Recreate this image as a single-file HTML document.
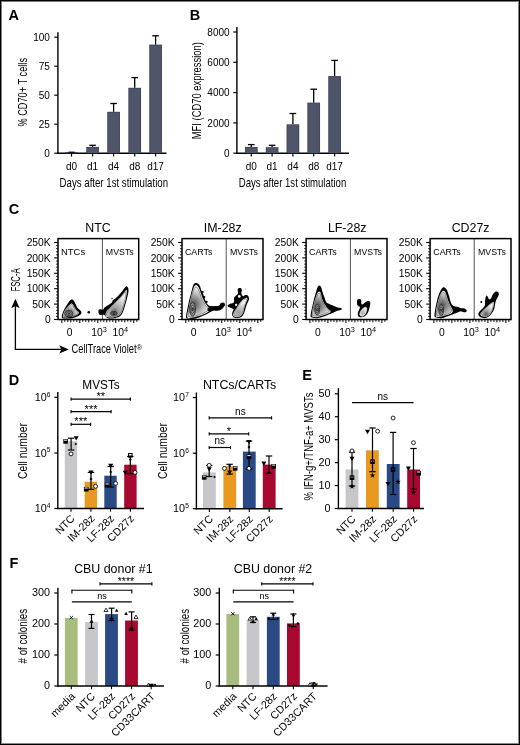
<!DOCTYPE html>
<html><head><meta charset="utf-8"><style>
html,body{margin:0;padding:0;background:#fff;}
svg{display:block;will-change:transform;}
text{font-family:"Liberation Sans", sans-serif;}
</style></head><body>
<svg width="520" height="745" viewBox="0 0 520 745">
<rect width="520" height="745" fill="#fff"/>
<rect x="1" y="1" width="518" height="1" fill="#7c7c7c"/>
<rect x="1" y="1" width="1" height="743" fill="#808080"/>
<rect x="518" y="1" width="1" height="743" fill="#8a8a8a"/>
<rect x="1" y="743" width="518" height="1" fill="#888"/>
<rect x="0" y="0" width="520" height="1" fill="#000"/>
<rect x="0" y="0" width="1" height="745" fill="#000"/>
<rect x="519" y="0" width="1" height="745" fill="#000"/>
<rect x="0" y="744" width="520" height="1" fill="#000"/>
<text x="8.6" y="20.2" font-size="14.5" font-weight="bold">A</text>
<text x="189.8" y="20.2" font-size="14.5" font-weight="bold">B</text>
<text x="8.8" y="213.5" font-size="14.5" font-weight="bold">C</text>
<text x="8.8" y="384.6" font-size="14.5" font-weight="bold">D</text>
<text x="302.2" y="379.6" font-size="14.5" font-weight="bold">E</text>
<text x="9.6" y="568.2" font-size="14.5" font-weight="bold">F</text>
<line x1="57.9" y1="32.19999999999999" x2="57.9" y2="153.79999999999998" stroke="#000" stroke-width="1.4"/>
<line x1="57.199999999999996" y1="153.2" x2="166.5" y2="153.2" stroke="#000" stroke-width="1.4"/>
<line x1="54.3" y1="153.2" x2="57.9" y2="153.2" stroke="#000" stroke-width="1.2"/>
<text x="49.9" y="156.79999999999998" font-size="10" text-anchor="end">0</text>
<line x1="54.3" y1="124.19999999999999" x2="57.9" y2="124.19999999999999" stroke="#000" stroke-width="1.2"/>
<text x="49.9" y="127.79999999999998" font-size="10" text-anchor="end">25</text>
<line x1="54.3" y1="95.19999999999999" x2="57.9" y2="95.19999999999999" stroke="#000" stroke-width="1.2"/>
<text x="49.9" y="98.79999999999998" font-size="10" text-anchor="end">50</text>
<line x1="54.3" y1="66.19999999999999" x2="57.9" y2="66.19999999999999" stroke="#000" stroke-width="1.2"/>
<text x="49.9" y="69.79999999999998" font-size="10" text-anchor="end">75</text>
<line x1="54.3" y1="37.19999999999999" x2="57.9" y2="37.19999999999999" stroke="#000" stroke-width="1.2"/>
<text x="49.9" y="40.79999999999999" font-size="10" text-anchor="end">100</text>
<rect x="65.15" y="152.2" width="12.7" height="1.0" fill="#3e4356"/>
<rect x="65.95" y="153.0" width="11.1" height="0.19999999999999996" fill="#4f5568"/>
<line x1="71.5" y1="153.2" x2="71.5" y2="156.6" stroke="#000" stroke-width="1.2"/>
<rect x="86.25" y="146.9" width="12.7" height="6.299999999999983" fill="#3e4356"/>
<rect x="87.05" y="147.70000000000002" width="11.1" height="5.499999999999983" fill="#4f5568"/>
<line x1="92.6" y1="145.3" x2="92.6" y2="146.9" stroke="#000" stroke-width="1.3"/>
<line x1="89.3" y1="145.3" x2="95.89999999999999" y2="145.3" stroke="#000" stroke-width="1.3"/>
<line x1="92.6" y1="153.2" x2="92.6" y2="156.6" stroke="#000" stroke-width="1.2"/>
<rect x="107.25" y="111.8" width="12.7" height="41.39999999999999" fill="#3e4356"/>
<rect x="108.05" y="112.6" width="11.1" height="40.599999999999994" fill="#4f5568"/>
<line x1="113.6" y1="103.5" x2="113.6" y2="111.8" stroke="#000" stroke-width="1.3"/>
<line x1="110.3" y1="103.5" x2="116.89999999999999" y2="103.5" stroke="#000" stroke-width="1.3"/>
<line x1="113.6" y1="153.2" x2="113.6" y2="156.6" stroke="#000" stroke-width="1.2"/>
<rect x="128.35" y="87.8" width="12.7" height="65.39999999999999" fill="#3e4356"/>
<rect x="129.14999999999998" y="88.6" width="11.1" height="64.6" fill="#4f5568"/>
<line x1="134.7" y1="77.6" x2="134.7" y2="87.8" stroke="#000" stroke-width="1.3"/>
<line x1="131.39999999999998" y1="77.6" x2="138.0" y2="77.6" stroke="#000" stroke-width="1.3"/>
<line x1="134.7" y1="153.2" x2="134.7" y2="156.6" stroke="#000" stroke-width="1.2"/>
<rect x="149.25" y="44.6" width="12.7" height="108.6" fill="#3e4356"/>
<rect x="150.04999999999998" y="45.4" width="11.1" height="107.8" fill="#4f5568"/>
<line x1="155.6" y1="35.8" x2="155.6" y2="44.6" stroke="#000" stroke-width="1.3"/>
<line x1="152.29999999999998" y1="35.8" x2="158.9" y2="35.8" stroke="#000" stroke-width="1.3"/>
<line x1="155.6" y1="153.2" x2="155.6" y2="156.6" stroke="#000" stroke-width="1.2"/>
<text x="71.5" y="169.5" font-size="10" text-anchor="middle">d0</text>
<text x="92.6" y="169.5" font-size="10" text-anchor="middle">d1</text>
<text x="113.6" y="169.5" font-size="10" text-anchor="middle">d4</text>
<text x="134.7" y="169.5" font-size="10" text-anchor="middle">d8</text>
<text x="155.6" y="169.5" font-size="10" text-anchor="middle">d17</text>
<text x="26.6" y="92.3" font-size="13.4" text-anchor="middle" textLength="68.6" lengthAdjust="spacingAndGlyphs" transform="rotate(-90 26.6 92.3)">% CD70+ T cells</text>
<line x1="68.5" y1="152.2" x2="74.5" y2="152.2" stroke="#000" stroke-width="1.2"/>
<text x="113.8" y="187.3" font-size="12.8" text-anchor="middle" textLength="108.5" lengthAdjust="spacingAndGlyphs">Days after 1st stimulation</text>
<line x1="236.9" y1="26.999999999999986" x2="236.9" y2="153.79999999999998" stroke="#000" stroke-width="1.4"/>
<line x1="236.20000000000002" y1="153.2" x2="349" y2="153.2" stroke="#000" stroke-width="1.4"/>
<line x1="233.3" y1="153.2" x2="236.9" y2="153.2" stroke="#000" stroke-width="1.2"/>
<text x="229.6" y="156.79999999999998" font-size="10" text-anchor="end">0</text>
<line x1="233.3" y1="122.89999999999999" x2="236.9" y2="122.89999999999999" stroke="#000" stroke-width="1.2"/>
<text x="229.6" y="126.49999999999999" font-size="10" text-anchor="end">2000</text>
<line x1="233.3" y1="92.6" x2="236.9" y2="92.6" stroke="#000" stroke-width="1.2"/>
<text x="229.6" y="96.19999999999999" font-size="10" text-anchor="end">4000</text>
<line x1="233.3" y1="62.29999999999998" x2="236.9" y2="62.29999999999998" stroke="#000" stroke-width="1.2"/>
<text x="229.6" y="65.89999999999998" font-size="10" text-anchor="end">6000</text>
<line x1="233.3" y1="31.999999999999986" x2="236.9" y2="31.999999999999986" stroke="#000" stroke-width="1.2"/>
<text x="229.6" y="35.59999999999999" font-size="10" text-anchor="end">8000</text>
<rect x="244.95000000000002" y="146.9" width="12.7" height="6.299999999999983" fill="#3e4356"/>
<rect x="245.75" y="147.70000000000002" width="11.1" height="5.499999999999983" fill="#4f5568"/>
<line x1="251.3" y1="144.6" x2="251.3" y2="146.9" stroke="#000" stroke-width="1.3"/>
<line x1="248.0" y1="144.6" x2="254.60000000000002" y2="144.6" stroke="#000" stroke-width="1.3"/>
<line x1="251.3" y1="153.2" x2="251.3" y2="156.6" stroke="#000" stroke-width="1.2"/>
<rect x="265.75" y="147.2" width="12.7" height="6.0" fill="#3e4356"/>
<rect x="266.55" y="148.0" width="11.1" height="5.2" fill="#4f5568"/>
<line x1="272.1" y1="145.3" x2="272.1" y2="147.2" stroke="#000" stroke-width="1.3"/>
<line x1="268.8" y1="145.3" x2="275.40000000000003" y2="145.3" stroke="#000" stroke-width="1.3"/>
<line x1="272.1" y1="153.2" x2="272.1" y2="156.6" stroke="#000" stroke-width="1.2"/>
<rect x="286.54999999999995" y="124.3" width="12.7" height="28.89999999999999" fill="#3e4356"/>
<rect x="287.34999999999997" y="125.1" width="11.1" height="28.09999999999999" fill="#4f5568"/>
<line x1="292.9" y1="113.5" x2="292.9" y2="124.3" stroke="#000" stroke-width="1.3"/>
<line x1="289.59999999999997" y1="113.5" x2="296.2" y2="113.5" stroke="#000" stroke-width="1.3"/>
<line x1="292.9" y1="153.2" x2="292.9" y2="156.6" stroke="#000" stroke-width="1.2"/>
<rect x="307.34999999999997" y="102.6" width="12.7" height="50.599999999999994" fill="#3e4356"/>
<rect x="308.15" y="103.39999999999999" width="11.1" height="49.8" fill="#4f5568"/>
<line x1="313.7" y1="89.2" x2="313.7" y2="102.6" stroke="#000" stroke-width="1.3"/>
<line x1="310.4" y1="89.2" x2="317.0" y2="89.2" stroke="#000" stroke-width="1.3"/>
<line x1="313.7" y1="153.2" x2="313.7" y2="156.6" stroke="#000" stroke-width="1.2"/>
<rect x="328.25" y="76.1" width="12.7" height="77.1" fill="#3e4356"/>
<rect x="329.05" y="76.89999999999999" width="11.1" height="76.3" fill="#4f5568"/>
<line x1="334.6" y1="60.4" x2="334.6" y2="76.1" stroke="#000" stroke-width="1.3"/>
<line x1="331.3" y1="60.4" x2="337.90000000000003" y2="60.4" stroke="#000" stroke-width="1.3"/>
<line x1="334.6" y1="153.2" x2="334.6" y2="156.6" stroke="#000" stroke-width="1.2"/>
<text x="251.3" y="169.5" font-size="10" text-anchor="middle">d0</text>
<text x="272.1" y="169.5" font-size="10" text-anchor="middle">d1</text>
<text x="292.9" y="169.5" font-size="10" text-anchor="middle">d4</text>
<text x="313.7" y="169.5" font-size="10" text-anchor="middle">d8</text>
<text x="334.6" y="169.5" font-size="10" text-anchor="middle">d17</text>
<text x="201.2" y="90.7" font-size="13.4" text-anchor="middle" textLength="97" lengthAdjust="spacingAndGlyphs" transform="rotate(-90 201.2 90.7)">MFI (CD70 expression)</text>
<text x="292.5" y="187.3" font-size="12.8" text-anchor="middle" textLength="107.5" lengthAdjust="spacingAndGlyphs">Days after 1st stimulation</text>
<text x="98.0" y="231.8" font-size="12.4" text-anchor="middle">NTC</text>
<line x1="54.1" y1="319.5" x2="58.0" y2="319.5" stroke="#000" stroke-width="1.1"/>
<text x="50.7" y="323.1" font-size="10.3" text-anchor="end">0</text>
<line x1="56.1" y1="316.43" x2="58.0" y2="316.43" stroke="#000" stroke-width="0.9"/>
<line x1="56.1" y1="313.36" x2="58.0" y2="313.36" stroke="#000" stroke-width="0.9"/>
<line x1="56.1" y1="310.29" x2="58.0" y2="310.29" stroke="#000" stroke-width="0.9"/>
<line x1="56.1" y1="307.22" x2="58.0" y2="307.22" stroke="#000" stroke-width="0.9"/>
<line x1="54.1" y1="304.1" x2="58.0" y2="304.1" stroke="#000" stroke-width="1.1"/>
<text x="50.7" y="307.70000000000005" font-size="10.3" text-anchor="end">50K</text>
<line x1="56.1" y1="301.03000000000003" x2="58.0" y2="301.03000000000003" stroke="#000" stroke-width="0.9"/>
<line x1="56.1" y1="297.96000000000004" x2="58.0" y2="297.96000000000004" stroke="#000" stroke-width="0.9"/>
<line x1="56.1" y1="294.89000000000004" x2="58.0" y2="294.89000000000004" stroke="#000" stroke-width="0.9"/>
<line x1="56.1" y1="291.82000000000005" x2="58.0" y2="291.82000000000005" stroke="#000" stroke-width="0.9"/>
<line x1="54.1" y1="288.7" x2="58.0" y2="288.7" stroke="#000" stroke-width="1.1"/>
<text x="50.7" y="292.3" font-size="10.3" text-anchor="end">100K</text>
<line x1="56.1" y1="285.63" x2="58.0" y2="285.63" stroke="#000" stroke-width="0.9"/>
<line x1="56.1" y1="282.56" x2="58.0" y2="282.56" stroke="#000" stroke-width="0.9"/>
<line x1="56.1" y1="279.49" x2="58.0" y2="279.49" stroke="#000" stroke-width="0.9"/>
<line x1="56.1" y1="276.42" x2="58.0" y2="276.42" stroke="#000" stroke-width="0.9"/>
<line x1="54.1" y1="273.3" x2="58.0" y2="273.3" stroke="#000" stroke-width="1.1"/>
<text x="50.7" y="276.90000000000003" font-size="10.3" text-anchor="end">150K</text>
<line x1="56.1" y1="270.23" x2="58.0" y2="270.23" stroke="#000" stroke-width="0.9"/>
<line x1="56.1" y1="267.16" x2="58.0" y2="267.16" stroke="#000" stroke-width="0.9"/>
<line x1="56.1" y1="264.09000000000003" x2="58.0" y2="264.09000000000003" stroke="#000" stroke-width="0.9"/>
<line x1="56.1" y1="261.02000000000004" x2="58.0" y2="261.02000000000004" stroke="#000" stroke-width="0.9"/>
<line x1="54.1" y1="257.9" x2="58.0" y2="257.9" stroke="#000" stroke-width="1.1"/>
<text x="50.7" y="261.5" font-size="10.3" text-anchor="end">200K</text>
<line x1="56.1" y1="254.82999999999998" x2="58.0" y2="254.82999999999998" stroke="#000" stroke-width="0.9"/>
<line x1="56.1" y1="251.76" x2="58.0" y2="251.76" stroke="#000" stroke-width="0.9"/>
<line x1="56.1" y1="248.68999999999997" x2="58.0" y2="248.68999999999997" stroke="#000" stroke-width="0.9"/>
<line x1="56.1" y1="245.61999999999998" x2="58.0" y2="245.61999999999998" stroke="#000" stroke-width="0.9"/>
<line x1="54.1" y1="242.5" x2="58.0" y2="242.5" stroke="#000" stroke-width="1.1"/>
<text x="50.7" y="246.1" font-size="10.3" text-anchor="end">250K</text>
<line x1="61.8" y1="320.0" x2="61.8" y2="323.0" stroke="#000" stroke-width="1.0"/>
<line x1="64.8" y1="320.0" x2="64.8" y2="321.8" stroke="#000" stroke-width="1.0"/>
<line x1="67.8" y1="320.0" x2="67.8" y2="321.9" stroke="#000" stroke-width="1.0"/>
<line x1="70.8" y1="320.0" x2="70.8" y2="322.4" stroke="#000" stroke-width="1.0"/>
<line x1="73.8" y1="320.0" x2="73.8" y2="321.7" stroke="#000" stroke-width="1.0"/>
<line x1="76.8" y1="320.0" x2="76.8" y2="321.9" stroke="#000" stroke-width="1.0"/>
<line x1="79.8" y1="320.0" x2="79.8" y2="323.0" stroke="#000" stroke-width="1.0"/>
<line x1="82.8" y1="320.0" x2="82.8" y2="321.8" stroke="#000" stroke-width="1.0"/>
<line x1="85.8" y1="320.0" x2="85.8" y2="321.9" stroke="#000" stroke-width="1.0"/>
<line x1="88.8" y1="320.0" x2="88.8" y2="322.4" stroke="#000" stroke-width="1.0"/>
<line x1="91.8" y1="320.0" x2="91.8" y2="321.7" stroke="#000" stroke-width="1.0"/>
<line x1="94.8" y1="320.0" x2="94.8" y2="321.9" stroke="#000" stroke-width="1.0"/>
<line x1="97.8" y1="320.0" x2="97.8" y2="323.0" stroke="#000" stroke-width="1.0"/>
<line x1="100.8" y1="320.0" x2="100.8" y2="321.8" stroke="#000" stroke-width="1.0"/>
<line x1="103.8" y1="320.0" x2="103.8" y2="321.9" stroke="#000" stroke-width="1.0"/>
<line x1="106.8" y1="320.0" x2="106.8" y2="322.4" stroke="#000" stroke-width="1.0"/>
<line x1="109.8" y1="320.0" x2="109.8" y2="321.7" stroke="#000" stroke-width="1.0"/>
<line x1="112.8" y1="320.0" x2="112.8" y2="321.9" stroke="#000" stroke-width="1.0"/>
<line x1="115.8" y1="320.0" x2="115.8" y2="323.0" stroke="#000" stroke-width="1.0"/>
<line x1="118.8" y1="320.0" x2="118.8" y2="321.8" stroke="#000" stroke-width="1.0"/>
<line x1="121.8" y1="320.0" x2="121.8" y2="321.9" stroke="#000" stroke-width="1.0"/>
<line x1="124.8" y1="320.0" x2="124.8" y2="322.4" stroke="#000" stroke-width="1.0"/>
<line x1="127.8" y1="320.0" x2="127.8" y2="321.7" stroke="#000" stroke-width="1.0"/>
<line x1="130.8" y1="320.0" x2="130.8" y2="321.9" stroke="#000" stroke-width="1.0"/>
<line x1="133.8" y1="320.0" x2="133.8" y2="323.0" stroke="#000" stroke-width="1.0"/>
<line x1="136.8" y1="320.0" x2="136.8" y2="321.8" stroke="#000" stroke-width="1.0"/>
<text x="69.7" y="336.2" font-size="10.3" text-anchor="middle">0</text>
<text x="91.20" y="336.2" font-size="10.3">10<tspan font-size="7.4" dy="-4.1">3</tspan></text>
<text x="112.50" y="336.2" font-size="10.3">10<tspan font-size="7.4" dy="-4.1">4</tspan></text>
<line x1="102.4" y1="238.6" x2="102.4" y2="319.5" stroke="#555" stroke-width="1.0"/>
<text x="61.0" y="255.1" font-size="9.9" textLength="24.2" lengthAdjust="spacingAndGlyphs">NTCs</text>
<text x="105.8" y="255.1" font-size="9.9" textLength="27.9" lengthAdjust="spacingAndGlyphs">MVSTs</text>
<path d="M61.80,317.50 C61.43,316.50 62.18,314.25 62.80,312.50 C63.42,310.75 64.50,308.75 65.50,307.00 C66.50,305.25 67.95,303.17 68.80,302.00 C69.65,300.83 70.00,300.40 70.60,300.00 C71.20,299.60 71.83,299.43 72.40,299.60 C72.97,299.77 73.43,300.17 74.00,301.00 C74.57,301.83 75.27,303.50 75.80,304.60 C76.33,305.70 76.57,306.73 77.20,307.60 C77.83,308.47 78.90,309.03 79.60,309.80 C80.30,310.57 81.23,311.40 81.40,312.20 C81.57,313.00 81.30,313.87 80.60,314.60 C79.90,315.33 78.63,315.98 77.20,316.60 C75.77,317.22 74.03,317.98 72.00,318.30 C69.97,318.62 66.70,318.63 65.00,318.50 C63.30,318.37 62.17,318.50 61.80,317.50 Z" fill="#000"/>
<path d="M63.00,317.00 C62.63,316.20 63.23,314.07 63.80,312.60 C64.37,311.13 65.47,309.47 66.40,308.20 C67.33,306.93 68.55,305.77 69.40,305.00 C70.25,304.23 70.85,303.60 71.50,303.60 C72.15,303.60 72.75,304.30 73.30,305.00 C73.85,305.70 74.30,306.98 74.80,307.80 C75.30,308.62 75.63,309.15 76.30,309.90 C76.97,310.65 78.58,311.52 78.80,312.30 C79.02,313.08 78.57,313.88 77.60,314.60 C76.63,315.32 74.93,316.13 73.00,316.60 C71.07,317.07 67.67,317.33 66.00,317.40 C64.33,317.47 63.37,317.80 63.00,317.00 Z" fill="#fbfbfb"/>
<radialGradient id="g1" cx="69.0" cy="313.5" r="10" gradientUnits="userSpaceOnUse"><stop offset="0" stop-color="#4a4a4a"/><stop offset="0.3" stop-color="#828282"/><stop offset="0.65" stop-color="#bcbcbc"/><stop offset="1" stop-color="#ececec"/></radialGradient>
<path d="M63.75,316.55 C63.42,315.83 63.96,313.91 64.47,312.59 C64.98,311.27 65.97,309.77 66.81,308.63 C67.65,307.49 68.75,306.44 69.51,305.75 C70.28,305.06 70.82,304.49 71.40,304.49 C71.98,304.49 72.52,305.12 73.02,305.75 C73.52,306.38 73.92,307.53 74.37,308.27 C74.82,309.00 75.12,309.48 75.72,310.16 C76.32,310.83 77.78,311.62 77.97,312.32 C78.16,313.02 77.76,313.75 76.89,314.39 C76.02,315.04 74.49,315.77 72.75,316.19 C71.01,316.61 67.95,316.85 66.45,316.91 C64.95,316.97 64.08,317.27 63.75,316.55 Z" fill="url(#g1)" stroke="#3c3c3c" stroke-width="0.55"/>
<ellipse cx="68.9" cy="313.6" rx="4.0" ry="3.3" fill="#8e8e8e" stroke="#1e1e1e" stroke-width="0.75"/>
<ellipse cx="68.9" cy="313.6" rx="2.4" ry="1.9799999999999998" fill="#b2b2b2" stroke="#1e1e1e" stroke-width="0.75"/>
<ellipse cx="68.9" cy="313.6" rx="1.0" ry="0.825" fill="#555" stroke="#1e1e1e" stroke-width="0.75"/>
<path d="M98.60,310.00 C98.93,309.38 99.87,309.33 100.60,309.30 C101.33,309.27 102.33,310.08 103.00,309.80 C103.67,309.52 104.00,308.23 104.60,307.60 C105.20,306.97 105.90,306.47 106.60,306.00 C107.30,305.53 107.90,305.43 108.80,304.80 C109.70,304.17 111.33,302.97 112.00,302.20 C112.67,301.43 112.30,300.77 112.80,300.20 C113.30,299.63 114.05,299.60 115.00,298.80 C115.95,298.00 117.33,296.63 118.50,295.40 C119.67,294.17 120.92,292.73 122.00,291.40 C123.08,290.07 124.23,288.25 125.00,287.40 C125.77,286.55 126.07,286.15 126.60,286.30 C127.13,286.45 127.90,287.35 128.20,288.30 C128.50,289.25 128.62,290.22 128.40,292.00 C128.18,293.78 127.53,296.50 126.90,299.00 C126.27,301.50 125.30,304.75 124.60,307.00 C123.90,309.25 123.53,310.92 122.70,312.50 C121.87,314.08 121.05,315.55 119.60,316.50 C118.15,317.45 115.93,317.92 114.00,318.20 C112.07,318.48 109.43,318.53 108.00,318.20 C106.57,317.87 106.10,316.77 105.40,316.20 C104.70,315.63 104.70,315.02 103.80,314.80 C102.90,314.58 100.87,315.20 100.00,314.90 C99.13,314.60 98.83,313.82 98.60,313.00 C98.37,312.18 98.27,310.62 98.60,310.00 Z" fill="#000"/>
<path d="M105.60,315.80 C105.30,314.98 105.83,313.33 106.20,312.30 C106.57,311.27 107.10,310.42 107.80,309.60 C108.50,308.78 109.40,308.37 110.40,307.40 C111.40,306.43 112.73,304.90 113.80,303.80 C114.87,302.70 115.72,301.90 116.80,300.80 C117.88,299.70 119.18,298.43 120.30,297.20 C121.42,295.97 122.55,294.57 123.50,293.40 C124.45,292.23 125.43,290.52 126.00,290.20 C126.57,289.88 126.93,290.03 126.90,291.50 C126.87,292.97 126.35,296.45 125.80,299.00 C125.25,301.55 124.28,304.60 123.60,306.80 C122.92,309.00 122.50,310.73 121.70,312.20 C120.90,313.67 120.08,314.77 118.80,315.60 C117.52,316.43 115.80,316.93 114.00,317.20 C112.20,317.47 109.40,317.43 108.00,317.20 C106.60,316.97 105.90,316.62 105.60,315.80 Z" fill="#fbfbfb"/>
<radialGradient id="g2" cx="114.5" cy="311.5" r="16" gradientUnits="userSpaceOnUse"><stop offset="0" stop-color="#6a6a6a"/><stop offset="0.3" stop-color="#a6a6a6"/><stop offset="0.7" stop-color="#cfcfcf"/><stop offset="1" stop-color="#efefef"/></radialGradient>
<path d="M106.54,315.10 C106.26,314.35 106.75,312.85 107.08,311.91 C107.42,310.97 107.90,310.20 108.54,309.46 C109.17,308.71 109.99,308.33 110.90,307.45 C111.81,306.57 113.03,305.18 114.00,304.18 C114.97,303.18 115.74,302.45 116.73,301.45 C117.71,300.45 118.90,299.29 119.91,298.17 C120.93,297.05 121.96,295.78 122.83,294.71 C123.69,293.65 124.58,292.09 125.10,291.80 C125.62,291.51 125.95,291.65 125.92,292.99 C125.89,294.32 125.42,297.49 124.92,299.81 C124.42,302.13 123.54,304.91 122.92,306.91 C122.29,308.91 121.91,310.49 121.19,311.82 C120.46,313.16 119.72,314.16 118.55,314.92 C117.38,315.67 115.82,316.13 114.18,316.37 C112.54,316.61 109.99,316.58 108.72,316.37 C107.45,316.16 106.81,315.84 106.54,315.10 Z" fill="url(#g2)" stroke="#3c3c3c" stroke-width="0.55"/>
<ellipse cx="113.8" cy="313.4" rx="3.4" ry="2.0" fill="#8a8a8a" stroke="#1a1a1a" stroke-width="0.75"/>
<ellipse cx="113.8" cy="313.4" rx="2.0" ry="1.2" fill="#b0b0b0" stroke="#1a1a1a" stroke-width="0.75"/>
<ellipse cx="113.8" cy="313.4" rx="0.8" ry="0.55" fill="#404040" stroke="#1a1a1a" stroke-width="0.75"/>
<circle cx="88.8" cy="312.3" r="1.3" fill="#000"/>
<circle cx="112.0" cy="298.4" r="0.6" fill="#000"/>
<rect x="58.0" y="238.6" width="80.69999999999999" height="80.9" fill="none" stroke="#000" stroke-width="1.5"/>
<text x="222.7" y="231.8" font-size="12.4" text-anchor="middle">IM-28z</text>
<line x1="178.1" y1="319.5" x2="182.0" y2="319.5" stroke="#000" stroke-width="1.1"/>
<text x="174.7" y="323.1" font-size="10.3" text-anchor="end">0</text>
<line x1="180.1" y1="316.43" x2="182.0" y2="316.43" stroke="#000" stroke-width="0.9"/>
<line x1="180.1" y1="313.36" x2="182.0" y2="313.36" stroke="#000" stroke-width="0.9"/>
<line x1="180.1" y1="310.29" x2="182.0" y2="310.29" stroke="#000" stroke-width="0.9"/>
<line x1="180.1" y1="307.22" x2="182.0" y2="307.22" stroke="#000" stroke-width="0.9"/>
<line x1="178.1" y1="304.1" x2="182.0" y2="304.1" stroke="#000" stroke-width="1.1"/>
<text x="174.7" y="307.70000000000005" font-size="10.3" text-anchor="end">50K</text>
<line x1="180.1" y1="301.03000000000003" x2="182.0" y2="301.03000000000003" stroke="#000" stroke-width="0.9"/>
<line x1="180.1" y1="297.96000000000004" x2="182.0" y2="297.96000000000004" stroke="#000" stroke-width="0.9"/>
<line x1="180.1" y1="294.89000000000004" x2="182.0" y2="294.89000000000004" stroke="#000" stroke-width="0.9"/>
<line x1="180.1" y1="291.82000000000005" x2="182.0" y2="291.82000000000005" stroke="#000" stroke-width="0.9"/>
<line x1="178.1" y1="288.7" x2="182.0" y2="288.7" stroke="#000" stroke-width="1.1"/>
<text x="174.7" y="292.3" font-size="10.3" text-anchor="end">100K</text>
<line x1="180.1" y1="285.63" x2="182.0" y2="285.63" stroke="#000" stroke-width="0.9"/>
<line x1="180.1" y1="282.56" x2="182.0" y2="282.56" stroke="#000" stroke-width="0.9"/>
<line x1="180.1" y1="279.49" x2="182.0" y2="279.49" stroke="#000" stroke-width="0.9"/>
<line x1="180.1" y1="276.42" x2="182.0" y2="276.42" stroke="#000" stroke-width="0.9"/>
<line x1="178.1" y1="273.3" x2="182.0" y2="273.3" stroke="#000" stroke-width="1.1"/>
<text x="174.7" y="276.90000000000003" font-size="10.3" text-anchor="end">150K</text>
<line x1="180.1" y1="270.23" x2="182.0" y2="270.23" stroke="#000" stroke-width="0.9"/>
<line x1="180.1" y1="267.16" x2="182.0" y2="267.16" stroke="#000" stroke-width="0.9"/>
<line x1="180.1" y1="264.09000000000003" x2="182.0" y2="264.09000000000003" stroke="#000" stroke-width="0.9"/>
<line x1="180.1" y1="261.02000000000004" x2="182.0" y2="261.02000000000004" stroke="#000" stroke-width="0.9"/>
<line x1="178.1" y1="257.9" x2="182.0" y2="257.9" stroke="#000" stroke-width="1.1"/>
<text x="174.7" y="261.5" font-size="10.3" text-anchor="end">200K</text>
<line x1="180.1" y1="254.82999999999998" x2="182.0" y2="254.82999999999998" stroke="#000" stroke-width="0.9"/>
<line x1="180.1" y1="251.76" x2="182.0" y2="251.76" stroke="#000" stroke-width="0.9"/>
<line x1="180.1" y1="248.68999999999997" x2="182.0" y2="248.68999999999997" stroke="#000" stroke-width="0.9"/>
<line x1="180.1" y1="245.61999999999998" x2="182.0" y2="245.61999999999998" stroke="#000" stroke-width="0.9"/>
<line x1="178.1" y1="242.5" x2="182.0" y2="242.5" stroke="#000" stroke-width="1.1"/>
<text x="174.7" y="246.1" font-size="10.3" text-anchor="end">250K</text>
<line x1="185.8" y1="320.0" x2="185.8" y2="323.0" stroke="#000" stroke-width="1.0"/>
<line x1="188.8" y1="320.0" x2="188.8" y2="321.8" stroke="#000" stroke-width="1.0"/>
<line x1="191.8" y1="320.0" x2="191.8" y2="321.9" stroke="#000" stroke-width="1.0"/>
<line x1="194.8" y1="320.0" x2="194.8" y2="322.4" stroke="#000" stroke-width="1.0"/>
<line x1="197.8" y1="320.0" x2="197.8" y2="321.7" stroke="#000" stroke-width="1.0"/>
<line x1="200.8" y1="320.0" x2="200.8" y2="321.9" stroke="#000" stroke-width="1.0"/>
<line x1="203.8" y1="320.0" x2="203.8" y2="323.0" stroke="#000" stroke-width="1.0"/>
<line x1="206.8" y1="320.0" x2="206.8" y2="321.8" stroke="#000" stroke-width="1.0"/>
<line x1="209.8" y1="320.0" x2="209.8" y2="321.9" stroke="#000" stroke-width="1.0"/>
<line x1="212.8" y1="320.0" x2="212.8" y2="322.4" stroke="#000" stroke-width="1.0"/>
<line x1="215.8" y1="320.0" x2="215.8" y2="321.7" stroke="#000" stroke-width="1.0"/>
<line x1="218.8" y1="320.0" x2="218.8" y2="321.9" stroke="#000" stroke-width="1.0"/>
<line x1="221.8" y1="320.0" x2="221.8" y2="323.0" stroke="#000" stroke-width="1.0"/>
<line x1="224.8" y1="320.0" x2="224.8" y2="321.8" stroke="#000" stroke-width="1.0"/>
<line x1="227.8" y1="320.0" x2="227.8" y2="321.9" stroke="#000" stroke-width="1.0"/>
<line x1="230.8" y1="320.0" x2="230.8" y2="322.4" stroke="#000" stroke-width="1.0"/>
<line x1="233.8" y1="320.0" x2="233.8" y2="321.7" stroke="#000" stroke-width="1.0"/>
<line x1="236.8" y1="320.0" x2="236.8" y2="321.9" stroke="#000" stroke-width="1.0"/>
<line x1="239.8" y1="320.0" x2="239.8" y2="323.0" stroke="#000" stroke-width="1.0"/>
<line x1="242.8" y1="320.0" x2="242.8" y2="321.8" stroke="#000" stroke-width="1.0"/>
<line x1="245.8" y1="320.0" x2="245.8" y2="321.9" stroke="#000" stroke-width="1.0"/>
<line x1="248.8" y1="320.0" x2="248.8" y2="322.4" stroke="#000" stroke-width="1.0"/>
<line x1="251.8" y1="320.0" x2="251.8" y2="321.7" stroke="#000" stroke-width="1.0"/>
<line x1="254.8" y1="320.0" x2="254.8" y2="321.9" stroke="#000" stroke-width="1.0"/>
<line x1="257.8" y1="320.0" x2="257.8" y2="323.0" stroke="#000" stroke-width="1.0"/>
<line x1="260.8" y1="320.0" x2="260.8" y2="321.8" stroke="#000" stroke-width="1.0"/>
<text x="193.7" y="336.2" font-size="10.3" text-anchor="middle">0</text>
<text x="215.20" y="336.2" font-size="10.3">10<tspan font-size="7.4" dy="-4.1">3</tspan></text>
<text x="236.50" y="336.2" font-size="10.3">10<tspan font-size="7.4" dy="-4.1">4</tspan></text>
<line x1="226.2" y1="238.6" x2="226.2" y2="319.5" stroke="#555" stroke-width="1.0"/>
<text x="184.9" y="255.1" font-size="9.9" textLength="27.6" lengthAdjust="spacingAndGlyphs">CARTs</text>
<text x="230.0" y="255.1" font-size="9.9" textLength="27.9" lengthAdjust="spacingAndGlyphs">MVSTs</text>
<path d="M186.00,317.20 C185.85,315.65 186.78,312.00 187.30,309.20 C187.82,306.40 188.43,303.20 189.10,300.40 C189.77,297.60 190.63,294.87 191.30,292.40 C191.97,289.93 192.43,287.15 193.10,285.60 C193.77,284.05 194.50,283.47 195.30,283.10 C196.10,282.73 197.10,282.88 197.90,283.40 C198.70,283.92 199.58,285.15 200.10,286.20 C200.62,287.25 200.55,288.52 201.00,289.70 C201.45,290.88 202.28,292.18 202.80,293.30 C203.32,294.42 203.65,295.22 204.10,296.40 C204.55,297.58 204.90,299.03 205.50,300.40 C206.10,301.77 206.75,303.62 207.70,304.60 C208.65,305.58 209.88,306.07 211.20,306.30 C212.52,306.53 214.27,306.13 215.60,306.00 C216.93,305.87 218.32,306.02 219.20,305.50 C220.08,304.98 220.17,303.28 220.90,302.90 C221.63,302.52 222.98,302.75 223.60,303.20 C224.22,303.65 224.75,304.75 224.60,305.60 C224.45,306.45 223.60,307.50 222.70,308.30 C221.80,309.10 220.53,310.03 219.20,310.40 C217.87,310.77 216.18,310.25 214.70,310.50 C213.22,310.75 211.62,311.30 210.30,311.90 C208.98,312.50 208.57,313.22 206.80,314.10 C205.03,314.98 201.92,316.40 199.70,317.20 C197.48,318.00 195.42,318.68 193.50,318.90 C191.58,319.12 189.45,318.78 188.20,318.50 C186.95,318.22 186.15,318.75 186.00,317.20 Z" fill="#000"/>
<path d="M187.30,317.20 C186.63,315.65 188.02,311.55 188.60,308.30 C189.18,305.05 190.00,301.00 190.80,297.70 C191.60,294.40 192.58,290.62 193.40,288.50 C194.22,286.38 194.95,285.38 195.70,285.00 C196.45,284.62 197.23,285.42 197.90,286.20 C198.57,286.98 199.10,288.23 199.70,289.70 C200.30,291.17 200.77,293.08 201.50,295.00 C202.23,296.92 203.07,299.28 204.10,301.20 C205.13,303.12 206.73,305.02 207.70,306.50 C208.67,307.98 210.05,309.07 209.90,310.10 C209.75,311.13 208.50,311.75 206.80,312.70 C205.10,313.65 202.07,314.98 199.70,315.80 C197.33,316.62 194.67,317.37 192.60,317.60 C190.53,317.83 187.97,318.75 187.30,317.20 Z" fill="#fbfbfb"/>
<radialGradient id="g3" cx="193.3" cy="304.0" r="16" gradientUnits="userSpaceOnUse"><stop offset="0" stop-color="#4a4a4a"/><stop offset="0.3" stop-color="#828282"/><stop offset="0.65" stop-color="#bcbcbc"/><stop offset="1" stop-color="#ececec"/></radialGradient>
<path d="M188.02,316.08 C187.42,314.69 188.66,311.00 189.19,308.07 C189.72,305.14 190.45,301.50 191.17,298.53 C191.89,295.56 192.78,292.15 193.51,290.25 C194.24,288.35 194.90,287.45 195.58,287.10 C196.25,286.75 196.96,287.48 197.56,288.18 C198.16,288.88 198.64,290.01 199.18,291.33 C199.72,292.65 200.14,294.38 200.80,296.10 C201.46,297.83 202.21,299.96 203.14,301.68 C204.07,303.40 205.51,305.12 206.38,306.45 C207.25,307.78 208.50,308.76 208.36,309.69 C208.23,310.62 207.10,311.17 205.57,312.03 C204.04,312.88 201.31,314.08 199.18,314.82 C197.05,315.56 194.65,316.23 192.79,316.44 C190.93,316.65 188.62,317.47 188.02,316.08 Z" fill="url(#g3)" stroke="#3c3c3c" stroke-width="0.55"/>
<ellipse cx="192.6" cy="309.3" rx="2.9" ry="6.8" fill="#8e8e8e" stroke="#1e1e1e" stroke-width="0.75"/>
<ellipse cx="192.6" cy="309.3" rx="1.74" ry="4.08" fill="#b2b2b2" stroke="#1e1e1e" stroke-width="0.75"/>
<ellipse cx="192.6" cy="309.3" rx="0.725" ry="1.7" fill="#555" stroke="#1e1e1e" stroke-width="0.75"/>
<circle cx="202.6" cy="292.0" r="1.1" fill="#000"/>
<circle cx="204.4" cy="297.0" r="1.0" fill="#000"/>
<circle cx="206.6" cy="301.8" r="1.1" fill="#000"/>
<circle cx="211.5" cy="308.2" r="2.3" fill="#000"/>
<circle cx="216.2" cy="308.6" r="2.2" fill="#000"/>
<circle cx="220.6" cy="307.4" r="2.0" fill="#000"/>
<circle cx="223.0" cy="304.4" r="1.9" fill="#000"/>
<circle cx="209.0" cy="309.6" r="1.6" fill="#000"/>
<path d="M227.50,305.60 C227.70,305.07 228.75,304.42 229.80,303.90 C230.85,303.38 233.08,303.52 233.80,302.50 C234.52,301.48 233.72,298.97 234.10,297.80 C234.48,296.63 235.43,296.27 236.10,295.50 C236.77,294.73 237.85,294.15 238.10,293.20 C238.35,292.25 237.45,290.67 237.60,289.80 C237.75,288.93 238.43,288.25 239.00,288.00 C239.57,287.75 240.52,287.92 241.00,288.30 C241.48,288.68 241.85,289.48 241.90,290.30 C241.95,291.12 241.12,292.23 241.30,293.20 C241.48,294.17 242.32,295.80 243.00,296.10 C243.68,296.40 244.67,295.13 245.40,295.00 C246.13,294.87 246.83,294.92 247.40,295.30 C247.97,295.68 248.52,296.58 248.80,297.30 C249.08,298.02 249.28,298.73 249.10,299.60 C248.92,300.47 248.23,301.25 247.70,302.50 C247.17,303.75 246.48,305.37 245.90,307.10 C245.32,308.83 244.97,311.27 244.20,312.90 C243.43,314.53 242.55,316.05 241.30,316.90 C240.05,317.75 238.05,318.00 236.70,318.00 C235.35,318.00 233.97,317.67 233.20,316.90 C232.43,316.13 232.05,314.65 232.10,313.40 C232.15,312.15 233.60,310.27 233.50,309.40 C233.40,308.53 232.32,308.58 231.50,308.20 C230.68,307.82 229.27,307.53 228.60,307.10 C227.93,306.67 227.30,306.13 227.50,305.60 Z" fill="#000"/>
<ellipse cx="239.3" cy="296.4" rx="1.4" ry="1.3" fill="#fff"/>
<ellipse cx="236.1" cy="304.8" rx="1.2" ry="1.1" fill="#fff"/>
<path d="M233.50,316.00 C232.97,315.28 232.97,314.28 233.50,312.90 C234.03,311.52 235.58,309.43 236.70,307.70 C237.82,305.97 239.15,303.85 240.20,302.50 C241.25,301.15 241.95,300.38 243.00,299.60 C244.05,298.82 245.77,297.85 246.50,297.80 C247.23,297.75 247.50,298.43 247.40,299.30 C247.30,300.17 246.43,301.52 245.90,303.00 C245.37,304.48 244.68,306.55 244.20,308.20 C243.72,309.85 243.58,311.60 243.00,312.90 C242.42,314.20 241.75,315.28 240.70,316.00 C239.65,316.72 237.90,317.20 236.70,317.20 C235.50,317.20 234.03,316.72 233.50,316.00 Z" fill="#fbfbfb"/>
<radialGradient id="g4" cx="238.7" cy="312.5" r="11" gradientUnits="userSpaceOnUse"><stop offset="0" stop-color="#9a9a9a"/><stop offset="0.5" stop-color="#c6c6c6"/><stop offset="1" stop-color="#f0f0f0"/></radialGradient>
<path d="M234.15,315.20 C233.67,314.56 233.67,313.65 234.15,312.41 C234.63,311.16 236.03,309.29 237.03,307.73 C238.03,306.17 239.23,304.26 240.18,303.05 C241.12,301.84 241.75,301.14 242.70,300.44 C243.64,299.74 245.19,298.87 245.85,298.82 C246.51,298.77 246.75,299.39 246.66,300.17 C246.57,300.95 245.79,302.17 245.31,303.50 C244.83,304.83 244.22,306.69 243.78,308.18 C243.34,309.67 243.22,311.24 242.70,312.41 C242.17,313.58 241.57,314.56 240.63,315.20 C239.69,315.84 238.11,316.28 237.03,316.28 C235.95,316.28 234.63,315.84 234.15,315.20 Z" fill="url(#g4)" stroke="#444" stroke-width="0.5"/>
<circle cx="245.4" cy="288.9" r="0.5" fill="#999"/>
<rect x="182.0" y="238.6" width="81.0" height="80.9" fill="none" stroke="#000" stroke-width="1.5"/>
<text x="347.2" y="231.8" font-size="12.4" text-anchor="middle">LF-28z</text>
<line x1="302.20000000000005" y1="319.5" x2="306.1" y2="319.5" stroke="#000" stroke-width="1.1"/>
<text x="298.8" y="323.1" font-size="10.3" text-anchor="end">0</text>
<line x1="304.20000000000005" y1="316.43" x2="306.1" y2="316.43" stroke="#000" stroke-width="0.9"/>
<line x1="304.20000000000005" y1="313.36" x2="306.1" y2="313.36" stroke="#000" stroke-width="0.9"/>
<line x1="304.20000000000005" y1="310.29" x2="306.1" y2="310.29" stroke="#000" stroke-width="0.9"/>
<line x1="304.20000000000005" y1="307.22" x2="306.1" y2="307.22" stroke="#000" stroke-width="0.9"/>
<line x1="302.20000000000005" y1="304.1" x2="306.1" y2="304.1" stroke="#000" stroke-width="1.1"/>
<text x="298.8" y="307.70000000000005" font-size="10.3" text-anchor="end">50K</text>
<line x1="304.20000000000005" y1="301.03000000000003" x2="306.1" y2="301.03000000000003" stroke="#000" stroke-width="0.9"/>
<line x1="304.20000000000005" y1="297.96000000000004" x2="306.1" y2="297.96000000000004" stroke="#000" stroke-width="0.9"/>
<line x1="304.20000000000005" y1="294.89000000000004" x2="306.1" y2="294.89000000000004" stroke="#000" stroke-width="0.9"/>
<line x1="304.20000000000005" y1="291.82000000000005" x2="306.1" y2="291.82000000000005" stroke="#000" stroke-width="0.9"/>
<line x1="302.20000000000005" y1="288.7" x2="306.1" y2="288.7" stroke="#000" stroke-width="1.1"/>
<text x="298.8" y="292.3" font-size="10.3" text-anchor="end">100K</text>
<line x1="304.20000000000005" y1="285.63" x2="306.1" y2="285.63" stroke="#000" stroke-width="0.9"/>
<line x1="304.20000000000005" y1="282.56" x2="306.1" y2="282.56" stroke="#000" stroke-width="0.9"/>
<line x1="304.20000000000005" y1="279.49" x2="306.1" y2="279.49" stroke="#000" stroke-width="0.9"/>
<line x1="304.20000000000005" y1="276.42" x2="306.1" y2="276.42" stroke="#000" stroke-width="0.9"/>
<line x1="302.20000000000005" y1="273.3" x2="306.1" y2="273.3" stroke="#000" stroke-width="1.1"/>
<text x="298.8" y="276.90000000000003" font-size="10.3" text-anchor="end">150K</text>
<line x1="304.20000000000005" y1="270.23" x2="306.1" y2="270.23" stroke="#000" stroke-width="0.9"/>
<line x1="304.20000000000005" y1="267.16" x2="306.1" y2="267.16" stroke="#000" stroke-width="0.9"/>
<line x1="304.20000000000005" y1="264.09000000000003" x2="306.1" y2="264.09000000000003" stroke="#000" stroke-width="0.9"/>
<line x1="304.20000000000005" y1="261.02000000000004" x2="306.1" y2="261.02000000000004" stroke="#000" stroke-width="0.9"/>
<line x1="302.20000000000005" y1="257.9" x2="306.1" y2="257.9" stroke="#000" stroke-width="1.1"/>
<text x="298.8" y="261.5" font-size="10.3" text-anchor="end">200K</text>
<line x1="304.20000000000005" y1="254.82999999999998" x2="306.1" y2="254.82999999999998" stroke="#000" stroke-width="0.9"/>
<line x1="304.20000000000005" y1="251.76" x2="306.1" y2="251.76" stroke="#000" stroke-width="0.9"/>
<line x1="304.20000000000005" y1="248.68999999999997" x2="306.1" y2="248.68999999999997" stroke="#000" stroke-width="0.9"/>
<line x1="304.20000000000005" y1="245.61999999999998" x2="306.1" y2="245.61999999999998" stroke="#000" stroke-width="0.9"/>
<line x1="302.20000000000005" y1="242.5" x2="306.1" y2="242.5" stroke="#000" stroke-width="1.1"/>
<text x="298.8" y="246.1" font-size="10.3" text-anchor="end">250K</text>
<line x1="309.9" y1="320.0" x2="309.9" y2="323.0" stroke="#000" stroke-width="1.0"/>
<line x1="312.9" y1="320.0" x2="312.9" y2="321.8" stroke="#000" stroke-width="1.0"/>
<line x1="315.9" y1="320.0" x2="315.9" y2="321.9" stroke="#000" stroke-width="1.0"/>
<line x1="318.9" y1="320.0" x2="318.9" y2="322.4" stroke="#000" stroke-width="1.0"/>
<line x1="321.9" y1="320.0" x2="321.9" y2="321.7" stroke="#000" stroke-width="1.0"/>
<line x1="324.9" y1="320.0" x2="324.9" y2="321.9" stroke="#000" stroke-width="1.0"/>
<line x1="327.9" y1="320.0" x2="327.9" y2="323.0" stroke="#000" stroke-width="1.0"/>
<line x1="330.9" y1="320.0" x2="330.9" y2="321.8" stroke="#000" stroke-width="1.0"/>
<line x1="333.9" y1="320.0" x2="333.9" y2="321.9" stroke="#000" stroke-width="1.0"/>
<line x1="336.9" y1="320.0" x2="336.9" y2="322.4" stroke="#000" stroke-width="1.0"/>
<line x1="339.9" y1="320.0" x2="339.9" y2="321.7" stroke="#000" stroke-width="1.0"/>
<line x1="342.9" y1="320.0" x2="342.9" y2="321.9" stroke="#000" stroke-width="1.0"/>
<line x1="345.9" y1="320.0" x2="345.9" y2="323.0" stroke="#000" stroke-width="1.0"/>
<line x1="348.9" y1="320.0" x2="348.9" y2="321.8" stroke="#000" stroke-width="1.0"/>
<line x1="351.9" y1="320.0" x2="351.9" y2="321.9" stroke="#000" stroke-width="1.0"/>
<line x1="354.9" y1="320.0" x2="354.9" y2="322.4" stroke="#000" stroke-width="1.0"/>
<line x1="357.9" y1="320.0" x2="357.9" y2="321.7" stroke="#000" stroke-width="1.0"/>
<line x1="360.9" y1="320.0" x2="360.9" y2="321.9" stroke="#000" stroke-width="1.0"/>
<line x1="363.9" y1="320.0" x2="363.9" y2="323.0" stroke="#000" stroke-width="1.0"/>
<line x1="366.9" y1="320.0" x2="366.9" y2="321.8" stroke="#000" stroke-width="1.0"/>
<line x1="369.9" y1="320.0" x2="369.9" y2="321.9" stroke="#000" stroke-width="1.0"/>
<line x1="372.9" y1="320.0" x2="372.9" y2="322.4" stroke="#000" stroke-width="1.0"/>
<line x1="375.9" y1="320.0" x2="375.9" y2="321.7" stroke="#000" stroke-width="1.0"/>
<line x1="378.9" y1="320.0" x2="378.9" y2="321.9" stroke="#000" stroke-width="1.0"/>
<line x1="381.9" y1="320.0" x2="381.9" y2="323.0" stroke="#000" stroke-width="1.0"/>
<line x1="384.9" y1="320.0" x2="384.9" y2="321.8" stroke="#000" stroke-width="1.0"/>
<text x="317.8" y="336.2" font-size="10.3" text-anchor="middle">0</text>
<text x="339.30" y="336.2" font-size="10.3">10<tspan font-size="7.4" dy="-4.1">3</tspan></text>
<text x="360.60" y="336.2" font-size="10.3">10<tspan font-size="7.4" dy="-4.1">4</tspan></text>
<line x1="350.4" y1="238.6" x2="350.4" y2="319.5" stroke="#555" stroke-width="1.0"/>
<text x="309.0" y="255.1" font-size="9.9" textLength="27.6" lengthAdjust="spacingAndGlyphs">CARTs</text>
<text x="354.1" y="255.1" font-size="9.9" textLength="27.9" lengthAdjust="spacingAndGlyphs">MVSTs</text>
<path d="M310.60,316.60 C310.35,315.38 310.95,312.93 311.40,310.50 C311.85,308.07 312.60,304.83 313.30,302.00 C314.00,299.17 314.90,295.93 315.60,293.50 C316.30,291.07 316.85,288.72 317.50,287.40 C318.15,286.08 318.85,285.53 319.50,285.60 C320.15,285.67 320.90,286.73 321.40,287.80 C321.90,288.87 321.98,290.40 322.50,292.00 C323.02,293.60 323.85,295.70 324.50,297.40 C325.15,299.10 325.63,301.12 326.40,302.20 C327.17,303.28 328.02,303.33 329.10,303.90 C330.18,304.47 331.50,304.98 332.90,305.60 C334.30,306.22 336.08,307.17 337.50,307.60 C338.92,308.03 340.78,307.83 341.40,308.20 C342.02,308.57 341.85,309.37 341.20,309.80 C340.55,310.23 338.75,310.37 337.50,310.80 C336.25,311.23 335.10,311.82 333.70,312.40 C332.30,312.98 330.77,313.60 329.10,314.30 C327.43,315.00 325.63,315.95 323.70,316.60 C321.77,317.25 319.30,318.00 317.50,318.20 C315.70,318.40 314.05,318.07 312.90,317.80 C311.75,317.53 310.85,317.82 310.60,316.60 Z" fill="#000"/>
<path d="M311.80,315.80 C311.67,314.58 312.05,312.13 312.50,309.70 C312.95,307.27 313.72,303.90 314.50,301.20 C315.28,298.50 316.43,295.13 317.20,293.50 C317.97,291.87 318.53,291.52 319.10,291.40 C319.67,291.28 320.15,291.80 320.60,292.80 C321.05,293.80 321.28,295.73 321.80,297.40 C322.32,299.07 322.75,301.00 323.70,302.80 C324.65,304.60 326.35,306.80 327.50,308.20 C328.65,309.60 330.47,310.32 330.60,311.20 C330.73,312.08 329.58,312.78 328.30,313.50 C327.02,314.22 324.70,314.92 322.90,315.50 C321.10,316.08 319.10,316.75 317.50,317.00 C315.90,317.25 314.25,317.20 313.30,317.00 C312.35,316.80 311.93,317.02 311.80,315.80 Z" fill="#fbfbfb"/>
<radialGradient id="g5" cx="317.6" cy="305.5" r="14" gradientUnits="userSpaceOnUse"><stop offset="0" stop-color="#4a4a4a"/><stop offset="0.3" stop-color="#828282"/><stop offset="0.65" stop-color="#bcbcbc"/><stop offset="1" stop-color="#ececec"/></radialGradient>
<path d="M312.47,314.92 C312.35,313.83 312.70,311.62 313.10,309.43 C313.50,307.24 314.19,304.21 314.90,301.78 C315.60,299.35 316.64,296.32 317.33,294.85 C318.02,293.38 318.53,293.06 319.04,292.96 C319.55,292.85 319.99,293.32 320.39,294.22 C320.80,295.12 321.01,296.86 321.47,298.36 C321.94,299.86 322.32,301.60 323.18,303.22 C324.04,304.84 325.56,306.82 326.60,308.08 C327.64,309.34 329.27,309.98 329.39,310.78 C329.51,311.57 328.48,312.21 327.32,312.85 C326.16,313.50 324.08,314.12 322.46,314.65 C320.84,315.17 319.04,315.77 317.60,316.00 C316.16,316.23 314.68,316.18 313.82,316.00 C312.96,315.82 312.59,316.01 312.47,314.92 Z" fill="url(#g5)" stroke="#3c3c3c" stroke-width="0.55"/>
<ellipse cx="317.2" cy="309.7" rx="2.4" ry="5.4" fill="#8e8e8e" stroke="#1e1e1e" stroke-width="0.75"/>
<ellipse cx="317.2" cy="309.7" rx="1.44" ry="3.24" fill="#b2b2b2" stroke="#1e1e1e" stroke-width="0.75"/>
<ellipse cx="317.2" cy="309.7" rx="0.6" ry="1.35" fill="#555" stroke="#1e1e1e" stroke-width="0.75"/>
<path d="M357.50,299.50 C358.00,298.75 359.37,298.83 360.00,299.00 C360.63,299.17 361.08,299.75 361.30,300.50 C361.52,301.25 361.10,302.83 361.30,303.50 C361.50,304.17 361.88,304.67 362.50,304.50 C363.12,304.33 364.08,303.08 365.00,302.50 C365.92,301.92 367.17,301.12 368.00,301.00 C368.83,300.88 369.62,301.30 370.00,301.80 C370.38,302.30 370.38,303.05 370.30,304.00 C370.22,304.95 369.88,306.08 369.50,307.50 C369.12,308.92 368.75,311.08 368.00,312.50 C367.25,313.92 366.08,315.20 365.00,316.00 C363.92,316.80 362.58,317.22 361.50,317.30 C360.42,317.38 359.12,317.13 358.50,316.50 C357.88,315.87 357.72,314.58 357.80,313.50 C357.88,312.42 358.63,311.08 359.00,310.00 C359.37,308.92 360.17,307.67 360.00,307.00 C359.83,306.33 358.50,306.58 358.00,306.00 C357.50,305.42 357.08,304.58 357.00,303.50 C356.92,302.42 357.00,300.25 357.50,299.50 Z" fill="#000"/>
<radialGradient id="g6" cx="362.5" cy="313" r="6" gradientUnits="userSpaceOnUse"><stop offset="0" stop-color="#b0b0b0"/><stop offset="1" stop-color="#f2f2f2"/></radialGradient>
<path d="M359.80,315.00 C359.55,314.20 359.97,312.58 360.50,311.50 C361.03,310.42 362.17,309.20 363.00,308.50 C363.83,307.80 364.87,307.30 365.50,307.30 C366.13,307.30 366.67,307.72 366.80,308.50 C366.93,309.28 366.68,310.92 366.30,312.00 C365.92,313.08 365.22,314.28 364.50,315.00 C363.78,315.72 362.78,316.30 362.00,316.30 C361.22,316.30 360.05,315.80 359.80,315.00 Z" fill="url(#g6)" stroke="#fff" stroke-width="0.5"/>
<rect x="306.1" y="238.6" width="80.89999999999998" height="80.9" fill="none" stroke="#000" stroke-width="1.5"/>
<text x="470.6" y="231.8" font-size="12.4" text-anchor="middle">CD27z</text>
<line x1="426.20000000000005" y1="319.5" x2="430.1" y2="319.5" stroke="#000" stroke-width="1.1"/>
<text x="422.8" y="323.1" font-size="10.3" text-anchor="end">0</text>
<line x1="428.20000000000005" y1="316.43" x2="430.1" y2="316.43" stroke="#000" stroke-width="0.9"/>
<line x1="428.20000000000005" y1="313.36" x2="430.1" y2="313.36" stroke="#000" stroke-width="0.9"/>
<line x1="428.20000000000005" y1="310.29" x2="430.1" y2="310.29" stroke="#000" stroke-width="0.9"/>
<line x1="428.20000000000005" y1="307.22" x2="430.1" y2="307.22" stroke="#000" stroke-width="0.9"/>
<line x1="426.20000000000005" y1="304.1" x2="430.1" y2="304.1" stroke="#000" stroke-width="1.1"/>
<text x="422.8" y="307.70000000000005" font-size="10.3" text-anchor="end">50K</text>
<line x1="428.20000000000005" y1="301.03000000000003" x2="430.1" y2="301.03000000000003" stroke="#000" stroke-width="0.9"/>
<line x1="428.20000000000005" y1="297.96000000000004" x2="430.1" y2="297.96000000000004" stroke="#000" stroke-width="0.9"/>
<line x1="428.20000000000005" y1="294.89000000000004" x2="430.1" y2="294.89000000000004" stroke="#000" stroke-width="0.9"/>
<line x1="428.20000000000005" y1="291.82000000000005" x2="430.1" y2="291.82000000000005" stroke="#000" stroke-width="0.9"/>
<line x1="426.20000000000005" y1="288.7" x2="430.1" y2="288.7" stroke="#000" stroke-width="1.1"/>
<text x="422.8" y="292.3" font-size="10.3" text-anchor="end">100K</text>
<line x1="428.20000000000005" y1="285.63" x2="430.1" y2="285.63" stroke="#000" stroke-width="0.9"/>
<line x1="428.20000000000005" y1="282.56" x2="430.1" y2="282.56" stroke="#000" stroke-width="0.9"/>
<line x1="428.20000000000005" y1="279.49" x2="430.1" y2="279.49" stroke="#000" stroke-width="0.9"/>
<line x1="428.20000000000005" y1="276.42" x2="430.1" y2="276.42" stroke="#000" stroke-width="0.9"/>
<line x1="426.20000000000005" y1="273.3" x2="430.1" y2="273.3" stroke="#000" stroke-width="1.1"/>
<text x="422.8" y="276.90000000000003" font-size="10.3" text-anchor="end">150K</text>
<line x1="428.20000000000005" y1="270.23" x2="430.1" y2="270.23" stroke="#000" stroke-width="0.9"/>
<line x1="428.20000000000005" y1="267.16" x2="430.1" y2="267.16" stroke="#000" stroke-width="0.9"/>
<line x1="428.20000000000005" y1="264.09000000000003" x2="430.1" y2="264.09000000000003" stroke="#000" stroke-width="0.9"/>
<line x1="428.20000000000005" y1="261.02000000000004" x2="430.1" y2="261.02000000000004" stroke="#000" stroke-width="0.9"/>
<line x1="426.20000000000005" y1="257.9" x2="430.1" y2="257.9" stroke="#000" stroke-width="1.1"/>
<text x="422.8" y="261.5" font-size="10.3" text-anchor="end">200K</text>
<line x1="428.20000000000005" y1="254.82999999999998" x2="430.1" y2="254.82999999999998" stroke="#000" stroke-width="0.9"/>
<line x1="428.20000000000005" y1="251.76" x2="430.1" y2="251.76" stroke="#000" stroke-width="0.9"/>
<line x1="428.20000000000005" y1="248.68999999999997" x2="430.1" y2="248.68999999999997" stroke="#000" stroke-width="0.9"/>
<line x1="428.20000000000005" y1="245.61999999999998" x2="430.1" y2="245.61999999999998" stroke="#000" stroke-width="0.9"/>
<line x1="426.20000000000005" y1="242.5" x2="430.1" y2="242.5" stroke="#000" stroke-width="1.1"/>
<text x="422.8" y="246.1" font-size="10.3" text-anchor="end">250K</text>
<line x1="433.9" y1="320.0" x2="433.9" y2="323.0" stroke="#000" stroke-width="1.0"/>
<line x1="436.9" y1="320.0" x2="436.9" y2="321.8" stroke="#000" stroke-width="1.0"/>
<line x1="439.9" y1="320.0" x2="439.9" y2="321.9" stroke="#000" stroke-width="1.0"/>
<line x1="442.9" y1="320.0" x2="442.9" y2="322.4" stroke="#000" stroke-width="1.0"/>
<line x1="445.9" y1="320.0" x2="445.9" y2="321.7" stroke="#000" stroke-width="1.0"/>
<line x1="448.9" y1="320.0" x2="448.9" y2="321.9" stroke="#000" stroke-width="1.0"/>
<line x1="451.9" y1="320.0" x2="451.9" y2="323.0" stroke="#000" stroke-width="1.0"/>
<line x1="454.9" y1="320.0" x2="454.9" y2="321.8" stroke="#000" stroke-width="1.0"/>
<line x1="457.9" y1="320.0" x2="457.9" y2="321.9" stroke="#000" stroke-width="1.0"/>
<line x1="460.9" y1="320.0" x2="460.9" y2="322.4" stroke="#000" stroke-width="1.0"/>
<line x1="463.9" y1="320.0" x2="463.9" y2="321.7" stroke="#000" stroke-width="1.0"/>
<line x1="466.9" y1="320.0" x2="466.9" y2="321.9" stroke="#000" stroke-width="1.0"/>
<line x1="469.9" y1="320.0" x2="469.9" y2="323.0" stroke="#000" stroke-width="1.0"/>
<line x1="472.9" y1="320.0" x2="472.9" y2="321.8" stroke="#000" stroke-width="1.0"/>
<line x1="475.9" y1="320.0" x2="475.9" y2="321.9" stroke="#000" stroke-width="1.0"/>
<line x1="478.9" y1="320.0" x2="478.9" y2="322.4" stroke="#000" stroke-width="1.0"/>
<line x1="481.9" y1="320.0" x2="481.9" y2="321.7" stroke="#000" stroke-width="1.0"/>
<line x1="484.9" y1="320.0" x2="484.9" y2="321.9" stroke="#000" stroke-width="1.0"/>
<line x1="487.9" y1="320.0" x2="487.9" y2="323.0" stroke="#000" stroke-width="1.0"/>
<line x1="490.9" y1="320.0" x2="490.9" y2="321.8" stroke="#000" stroke-width="1.0"/>
<line x1="493.9" y1="320.0" x2="493.9" y2="321.9" stroke="#000" stroke-width="1.0"/>
<line x1="496.9" y1="320.0" x2="496.9" y2="322.4" stroke="#000" stroke-width="1.0"/>
<line x1="499.9" y1="320.0" x2="499.9" y2="321.7" stroke="#000" stroke-width="1.0"/>
<line x1="502.9" y1="320.0" x2="502.9" y2="321.9" stroke="#000" stroke-width="1.0"/>
<line x1="505.9" y1="320.0" x2="505.9" y2="323.0" stroke="#000" stroke-width="1.0"/>
<line x1="508.9" y1="320.0" x2="508.9" y2="321.8" stroke="#000" stroke-width="1.0"/>
<text x="441.8" y="336.2" font-size="10.3" text-anchor="middle">0</text>
<text x="463.30" y="336.2" font-size="10.3">10<tspan font-size="7.4" dy="-4.1">3</tspan></text>
<text x="484.60" y="336.2" font-size="10.3">10<tspan font-size="7.4" dy="-4.1">4</tspan></text>
<line x1="474.2" y1="238.6" x2="474.2" y2="319.5" stroke="#555" stroke-width="1.0"/>
<text x="433.2" y="255.1" font-size="9.9" textLength="27.6" lengthAdjust="spacingAndGlyphs">CARTs</text>
<text x="478.0" y="255.1" font-size="9.9" textLength="27.9" lengthAdjust="spacingAndGlyphs">MVSTs</text>
<path d="M434.60,316.60 C434.28,315.38 434.62,313.07 435.00,310.50 C435.38,307.93 436.20,304.03 436.90,301.20 C437.60,298.37 438.43,295.55 439.20,293.50 C439.97,291.45 440.73,289.95 441.50,288.90 C442.27,287.85 443.02,287.20 443.80,287.20 C444.58,287.20 445.55,288.10 446.20,288.90 C446.85,289.70 447.20,290.72 447.70,292.00 C448.20,293.28 448.75,295.07 449.20,296.60 C449.65,298.13 449.88,299.78 450.40,301.20 C450.92,302.62 451.47,304.20 452.30,305.10 C453.13,306.00 454.37,306.28 455.40,306.60 C456.43,306.92 457.60,306.72 458.50,307.00 C459.40,307.28 459.92,308.08 460.80,308.30 C461.68,308.52 462.85,308.00 463.80,308.30 C464.75,308.60 466.10,309.48 466.50,310.10 C466.90,310.72 466.65,311.65 466.20,312.00 C465.75,312.35 464.70,312.33 463.80,312.20 C462.90,312.07 461.82,311.17 460.80,311.20 C459.78,311.23 458.87,311.95 457.70,312.40 C456.53,312.85 455.47,313.27 453.80,313.90 C452.13,314.53 449.75,315.48 447.70,316.20 C445.65,316.92 443.30,317.93 441.50,318.20 C439.70,318.47 438.05,318.07 436.90,317.80 C435.75,317.53 434.92,317.82 434.60,316.60 Z" fill="#000"/>
<path d="M435.80,315.80 C435.62,314.58 435.82,312.13 436.20,309.70 C436.58,307.27 437.40,303.77 438.10,301.20 C438.80,298.63 439.57,296.03 440.40,294.30 C441.23,292.57 442.33,291.25 443.10,290.80 C443.87,290.35 444.43,290.88 445.00,291.60 C445.57,292.32 445.98,293.62 446.50,295.10 C447.02,296.58 447.52,298.83 448.10,300.50 C448.68,302.17 449.23,303.43 450.00,305.10 C450.77,306.77 452.45,309.15 452.70,310.50 C452.95,311.85 452.47,312.43 451.50,313.20 C450.53,313.97 448.57,314.53 446.90,315.10 C445.23,315.67 443.10,316.28 441.50,316.60 C439.90,316.92 438.25,317.13 437.30,317.00 C436.35,316.87 435.98,317.02 435.80,315.80 Z" fill="#fbfbfb"/>
<radialGradient id="g7" cx="441.8" cy="305.0" r="15" gradientUnits="userSpaceOnUse"><stop offset="0" stop-color="#4a4a4a"/><stop offset="0.3" stop-color="#828282"/><stop offset="0.65" stop-color="#bcbcbc"/><stop offset="1" stop-color="#ececec"/></radialGradient>
<path d="M436.47,314.92 C436.31,313.83 436.49,311.62 436.83,309.43 C437.17,307.24 437.91,304.09 438.54,301.78 C439.17,299.47 439.86,297.13 440.61,295.57 C441.36,294.01 442.35,292.82 443.04,292.42 C443.73,292.02 444.24,292.50 444.75,293.14 C445.26,293.79 445.63,294.96 446.10,296.29 C446.57,297.62 447.02,299.65 447.54,301.15 C448.06,302.65 448.56,303.79 449.25,305.29 C449.94,306.79 451.45,308.94 451.68,310.15 C451.91,311.36 451.47,311.89 450.60,312.58 C449.73,313.27 447.96,313.78 446.46,314.29 C444.96,314.80 443.04,315.36 441.60,315.64 C440.16,315.93 438.68,316.12 437.82,316.00 C436.96,315.88 436.64,316.01 436.47,314.92 Z" fill="url(#g7)" stroke="#3c3c3c" stroke-width="0.55"/>
<ellipse cx="441.2" cy="310.1" rx="2.5" ry="5.4" fill="#8e8e8e" stroke="#1e1e1e" stroke-width="0.75"/>
<ellipse cx="441.2" cy="310.1" rx="1.5" ry="3.24" fill="#b2b2b2" stroke="#1e1e1e" stroke-width="0.75"/>
<ellipse cx="441.2" cy="310.1" rx="0.625" ry="1.35" fill="#555" stroke="#1e1e1e" stroke-width="0.75"/>
<path d="M478.50,313.00 C478.75,312.33 479.25,311.83 480.00,311.00 C480.75,310.17 482.20,308.92 483.00,308.00 C483.80,307.08 484.47,306.58 484.80,305.50 C485.13,304.42 484.88,302.75 485.00,301.50 C485.12,300.25 485.25,299.00 485.50,298.00 C485.75,297.00 486.12,295.70 486.50,295.50 C486.88,295.30 487.38,296.17 487.80,296.80 C488.22,297.43 488.47,299.02 489.00,299.30 C489.53,299.58 490.50,299.05 491.00,298.50 C491.50,297.95 491.58,296.83 492.00,296.00 C492.42,295.17 492.83,294.25 493.50,293.50 C494.17,292.75 495.25,291.75 496.00,291.50 C496.75,291.25 497.53,291.50 498.00,292.00 C498.47,292.50 498.88,293.58 498.80,294.50 C498.72,295.42 497.97,296.50 497.50,297.50 C497.03,298.50 496.42,299.33 496.00,300.50 C495.58,301.67 495.25,303.25 495.00,304.50 C494.75,305.75 494.83,306.83 494.50,308.00 C494.17,309.17 493.67,310.33 493.00,311.50 C492.33,312.67 491.50,314.00 490.50,315.00 C489.50,316.00 488.17,317.00 487.00,317.50 C485.83,318.00 484.67,318.12 483.50,318.00 C482.33,317.88 480.83,317.30 480.00,316.80 C479.17,316.30 478.75,315.63 478.50,315.00 C478.25,314.37 478.25,313.67 478.50,313.00 Z" fill="#000"/>
<path d="M480.30,314.00 C480.38,313.25 481.05,312.58 482.00,311.50 C482.95,310.42 484.67,308.75 486.00,307.50 C487.33,306.25 488.83,304.92 490.00,304.00 C491.17,303.08 492.33,302.25 493.00,302.00 C493.67,301.75 493.87,302.00 494.00,302.50 C494.13,303.00 494.00,303.92 493.80,305.00 C493.60,306.08 493.27,307.67 492.80,309.00 C492.33,310.33 491.80,311.83 491.00,313.00 C490.20,314.17 489.08,315.37 488.00,316.00 C486.92,316.63 485.58,316.80 484.50,316.80 C483.42,316.80 482.20,316.47 481.50,316.00 C480.80,315.53 480.22,314.75 480.30,314.00 Z" fill="#fbfbfb"/>
<radialGradient id="g8" cx="486" cy="314" r="9" gradientUnits="userSpaceOnUse"><stop offset="0" stop-color="#5a5a5a"/><stop offset="0.4" stop-color="#a8a8a8"/><stop offset="1" stop-color="#f0f0f0"/></radialGradient>
<path d="M481.07,313.60 C481.14,312.93 481.75,312.33 482.60,311.35 C483.46,310.38 485.00,308.88 486.20,307.75 C487.40,306.62 488.75,305.43 489.80,304.60 C490.85,303.78 491.90,303.03 492.50,302.80 C493.10,302.57 493.28,302.80 493.40,303.25 C493.52,303.70 493.40,304.52 493.22,305.50 C493.04,306.48 492.74,307.90 492.32,309.10 C491.90,310.30 491.42,311.65 490.70,312.70 C489.98,313.75 488.98,314.83 488.00,315.40 C487.02,315.97 485.83,316.12 484.85,316.12 C483.88,316.12 482.78,315.82 482.15,315.40 C481.52,314.98 481.00,314.28 481.07,313.60 Z" fill="url(#g8)" stroke="#444" stroke-width="0.5"/>
<circle cx="481.3" cy="302" r="1.0" fill="#000"/>
<rect x="430.1" y="238.6" width="80.89999999999998" height="80.9" fill="none" stroke="#000" stroke-width="1.5"/>
<text x="19.8" y="279.9" font-size="12.4" text-anchor="middle" textLength="23.4" lengthAdjust="spacingAndGlyphs" transform="rotate(-90 19.8 279.9)">FSC-A</text>
<line x1="15.4" y1="304" x2="15.4" y2="349.4" stroke="#000" stroke-width="1.3"/>
<line x1="14.75" y1="349.4" x2="62" y2="349.4" stroke="#000" stroke-width="1.3"/>
<path d="M15.4,298.8 L11.2,308.2 L15.4,306.0 L19.6,308.2 Z" fill="#000"/>
<path d="M68.8,349.4 L59.2,345.3 L61.4,349.4 L59.2,353.5 Z" fill="#000"/>
<text x="71.6" y="353.1" font-size="12.6" textLength="65" lengthAdjust="spacingAndGlyphs">CellTrace Violet</text>
<text x="136.6" y="349.6" font-size="7.6">®</text>
<text x="101.0" y="389.2" font-size="12.4" text-anchor="middle" textLength="37.4" lengthAdjust="spacingAndGlyphs">MVSTs</text>
<rect x="64.8" y="441.3" width="12.4" height="67.19999999999999" fill="#c6c6cb"/>
<rect x="84.7" y="481.7" width="12.4" height="26.80000000000001" fill="#e79a1f"/>
<rect x="104.3" y="475.7" width="12.4" height="32.80000000000001" fill="#2a4a85"/>
<rect x="124.2" y="464.7" width="12.4" height="43.80000000000001" fill="#a8072f"/>
<line x1="57.8" y1="392.0" x2="57.8" y2="509.1" stroke="#000" stroke-width="1.4"/>
<line x1="57.099999999999994" y1="508.5" x2="144.0" y2="508.5" stroke="#000" stroke-width="1.4"/>
<line x1="71.0" y1="508.5" x2="71.0" y2="511.7" stroke="#000" stroke-width="1.1"/>
<line x1="90.9" y1="508.5" x2="90.9" y2="511.7" stroke="#000" stroke-width="1.1"/>
<line x1="110.5" y1="508.5" x2="110.5" y2="511.7" stroke="#000" stroke-width="1.1"/>
<line x1="130.4" y1="508.5" x2="130.4" y2="511.7" stroke="#000" stroke-width="1.1"/>
<line x1="54.4" y1="397.3" x2="58.0" y2="397.3" stroke="#000" stroke-width="1.2"/>
<text x="50.4" y="401.0" font-size="10.8" text-anchor="end">10<tspan font-size="6.6" dy="-4.4">6</tspan></text>
<line x1="54.4" y1="453.0" x2="58.0" y2="453.0" stroke="#000" stroke-width="1.2"/>
<text x="50.4" y="456.7" font-size="10.8" text-anchor="end">10<tspan font-size="6.6" dy="-4.4">5</tspan></text>
<line x1="54.4" y1="508.5" x2="58.0" y2="508.5" stroke="#000" stroke-width="1.2"/>
<text x="50.4" y="512.2" font-size="10.8" text-anchor="end">10<tspan font-size="6.6" dy="-4.4">4</tspan></text>
<text x="27.0" y="451" font-size="13.4" text-anchor="middle" textLength="56" lengthAdjust="spacingAndGlyphs" transform="rotate(-90 27.0 451)">Cell number</text>
<line x1="71.1" y1="399.1" x2="130.4" y2="399.1" stroke="#000" stroke-width="1.2"/>
<line x1="71.1" y1="397.5" x2="71.1" y2="400.70000000000005" stroke="#000" stroke-width="1.1"/>
<line x1="130.4" y1="397.5" x2="130.4" y2="400.70000000000005" stroke="#000" stroke-width="1.1"/>
<text x="100.75" y="400.20000000000005" font-size="11.2" text-anchor="middle">**</text>
<line x1="71.1" y1="411.7" x2="111.1" y2="411.7" stroke="#000" stroke-width="1.2"/>
<line x1="71.1" y1="410.09999999999997" x2="71.1" y2="413.3" stroke="#000" stroke-width="1.1"/>
<line x1="111.1" y1="410.09999999999997" x2="111.1" y2="413.3" stroke="#000" stroke-width="1.1"/>
<text x="91.1" y="412.8" font-size="11.2" text-anchor="middle">***</text>
<line x1="71.1" y1="424.3" x2="90.6" y2="424.3" stroke="#000" stroke-width="1.2"/>
<line x1="71.1" y1="422.7" x2="71.1" y2="425.90000000000003" stroke="#000" stroke-width="1.1"/>
<line x1="90.6" y1="422.7" x2="90.6" y2="425.90000000000003" stroke="#000" stroke-width="1.1"/>
<text x="80.85" y="425.40000000000003" font-size="11.2" text-anchor="middle">***</text>
<line x1="71.1" y1="438.2" x2="71.1" y2="450.0" stroke="#000" stroke-width="1.2"/>
<line x1="67.89999999999999" y1="438.2" x2="74.3" y2="438.2" stroke="#000" stroke-width="1.2"/>
<line x1="67.89999999999999" y1="450.0" x2="74.3" y2="450.0" stroke="#000" stroke-width="1.2"/>
<rect x="63.3" y="439.09999999999997" width="4.6" height="4.6" fill="#000"/>
<rect x="64.0" y="439.7" width="3.1999999999999997" height="1.0" fill="#fff"/>
<path d="M73.70,436.22 L78.70,436.22 L76.20,440.57 Z" fill="#000"/>
<path d="M75.8,442.7 L77.1,444.0 L75.8,445.3 L74.5,444.0 Z" fill="#000"/>
<circle cx="71.0" cy="453.9" r="1.95" fill="#fff" stroke="#000" stroke-width="0.85"/>
<line x1="91.0" y1="472.4" x2="91.0" y2="489.4" stroke="#000" stroke-width="1.2"/>
<line x1="87.8" y1="472.4" x2="94.2" y2="472.4" stroke="#000" stroke-width="1.2"/>
<line x1="87.8" y1="489.4" x2="94.2" y2="489.4" stroke="#000" stroke-width="1.2"/>
<path d="M88.50,470.43 L93.50,470.43 L91.00,474.78 Z" fill="#000"/>
<path d="M91.0,477.5 L92.5,479.0 L91.0,480.5 L89.5,479.0 Z" fill="#000"/>
<rect x="83.9" y="486.9" width="4.6" height="4.6" fill="#000"/>
<rect x="84.60000000000001" y="487.5" width="3.1999999999999997" height="1.0" fill="#fff"/>
<circle cx="95.6" cy="486.3" r="1.95" fill="#fff" stroke="#000" stroke-width="0.85"/>
<line x1="110.7" y1="466.5" x2="110.7" y2="487.0" stroke="#000" stroke-width="1.2"/>
<line x1="107.5" y1="466.5" x2="113.9" y2="466.5" stroke="#000" stroke-width="1.2"/>
<line x1="107.5" y1="487.0" x2="113.9" y2="487.0" stroke="#000" stroke-width="1.2"/>
<path d="M108.20,463.82 L113.20,463.82 L110.70,468.18 Z" fill="#000"/>
<path d="M110.7,470.5 L112.2,472.0 L110.7,473.5 L109.2,472.0 Z" fill="#000"/>
<rect x="104.8" y="482.9" width="4.6" height="4.6" fill="#000"/>
<rect x="105.5" y="483.5" width="3.1999999999999997" height="1.0" fill="#fff"/>
<circle cx="115.7" cy="483.5" r="1.95" fill="#fff" stroke="#000" stroke-width="0.85"/>
<line x1="130.3" y1="456.5" x2="130.3" y2="473.8" stroke="#000" stroke-width="1.2"/>
<line x1="127.10000000000001" y1="456.5" x2="133.5" y2="456.5" stroke="#000" stroke-width="1.2"/>
<line x1="127.10000000000001" y1="473.8" x2="133.5" y2="473.8" stroke="#000" stroke-width="1.2"/>
<rect x="128.5" y="453.5" width="3.5999999999999996" height="3.5999999999999996" fill="none" stroke="#000" stroke-width="1.0"/>
<rect x="128.5" y="455.5" width="3.5999999999999996" height="1.5999999999999999" fill="#000"/>
<path d="M130.3,458.0 L131.8,459.5 L130.3,461.0 L128.8,459.5 Z" fill="#000"/>
<path d="M122.80,470.82 L127.80,470.82 L125.30,475.18 Z" fill="#000"/>
<circle cx="135.0" cy="472.4" r="1.95" fill="#fff" stroke="#000" stroke-width="0.85"/>
<text x="75.40" y="519.20" font-size="10.8" text-anchor="end" transform="rotate(-45 75.40 519.20)">NTC</text>
<text x="95.30" y="519.20" font-size="10.8" text-anchor="end" transform="rotate(-45 95.30 519.20)">IM-28z</text>
<text x="114.90" y="519.20" font-size="10.8" text-anchor="end" transform="rotate(-45 114.90 519.20)">LF-28z</text>
<text x="134.80" y="519.20" font-size="10.8" text-anchor="end" transform="rotate(-45 134.80 519.20)">CD27z</text>
<text x="239.6" y="389.2" font-size="12.4" text-anchor="middle">NTCs/CARTs</text>
<rect x="203.0" y="472.4" width="12.8" height="36.30000000000001" fill="#c6c6cb"/>
<rect x="223.4" y="466.3" width="12.8" height="42.39999999999998" fill="#e79a1f"/>
<rect x="242.9" y="451.6" width="12.8" height="57.099999999999966" fill="#2a4a85"/>
<rect x="262.8" y="464.6" width="12.8" height="44.099999999999966" fill="#a8072f"/>
<line x1="196.4" y1="392.5" x2="196.4" y2="509.3" stroke="#000" stroke-width="1.4"/>
<line x1="195.70000000000002" y1="508.7" x2="282.6" y2="508.7" stroke="#000" stroke-width="1.4"/>
<line x1="209.4" y1="508.7" x2="209.4" y2="511.9" stroke="#000" stroke-width="1.1"/>
<line x1="229.8" y1="508.7" x2="229.8" y2="511.9" stroke="#000" stroke-width="1.1"/>
<line x1="249.3" y1="508.7" x2="249.3" y2="511.9" stroke="#000" stroke-width="1.1"/>
<line x1="269.2" y1="508.7" x2="269.2" y2="511.9" stroke="#000" stroke-width="1.1"/>
<line x1="192.8" y1="397.6" x2="196.4" y2="397.6" stroke="#000" stroke-width="1.2"/>
<text x="188.8" y="401.3" font-size="10.8" text-anchor="end">10<tspan font-size="6.6" dy="-4.4">7</tspan></text>
<line x1="192.8" y1="453.2" x2="196.4" y2="453.2" stroke="#000" stroke-width="1.2"/>
<text x="188.8" y="456.9" font-size="10.8" text-anchor="end">10<tspan font-size="6.6" dy="-4.4">6</tspan></text>
<line x1="192.8" y1="508.7" x2="196.4" y2="508.7" stroke="#000" stroke-width="1.2"/>
<text x="188.8" y="512.4" font-size="10.8" text-anchor="end">10<tspan font-size="6.6" dy="-4.4">5</tspan></text>
<text x="166.6" y="451" font-size="13.4" text-anchor="middle" textLength="56" lengthAdjust="spacingAndGlyphs" transform="rotate(-90 166.6 451)">Cell number</text>
<line x1="209.2" y1="417.9" x2="271.6" y2="417.9" stroke="#000" stroke-width="1.2"/>
<line x1="209.2" y1="416.29999999999995" x2="209.2" y2="419.5" stroke="#000" stroke-width="1.1"/>
<line x1="271.6" y1="416.29999999999995" x2="271.6" y2="419.5" stroke="#000" stroke-width="1.1"/>
<text x="240.4" y="414.6" font-size="10" text-anchor="middle">ns</text>
<line x1="209.2" y1="433.8" x2="248.7" y2="433.8" stroke="#000" stroke-width="1.2"/>
<line x1="209.2" y1="432.2" x2="209.2" y2="435.40000000000003" stroke="#000" stroke-width="1.1"/>
<line x1="248.7" y1="432.2" x2="248.7" y2="435.40000000000003" stroke="#000" stroke-width="1.1"/>
<text x="228.95" y="434.90000000000003" font-size="11.2" text-anchor="middle">*</text>
<line x1="209.2" y1="447.5" x2="230.5" y2="447.5" stroke="#000" stroke-width="1.2"/>
<line x1="209.2" y1="445.9" x2="209.2" y2="449.1" stroke="#000" stroke-width="1.1"/>
<line x1="230.5" y1="445.9" x2="230.5" y2="449.1" stroke="#000" stroke-width="1.1"/>
<text x="219.85" y="444.40000000000003" font-size="10" text-anchor="middle">ns</text>
<line x1="209.2" y1="465.5" x2="209.2" y2="476.5" stroke="#000" stroke-width="1.2"/>
<line x1="206.0" y1="465.5" x2="212.39999999999998" y2="465.5" stroke="#000" stroke-width="1.2"/>
<line x1="206.0" y1="476.5" x2="212.39999999999998" y2="476.5" stroke="#000" stroke-width="1.2"/>
<circle cx="209.2" cy="465.3" r="1.95" fill="#fff" stroke="#000" stroke-width="0.85"/>
<path d="M206.70,467.32 L211.70,467.32 L209.20,471.68 Z" fill="#000"/>
<rect x="201.89999999999998" y="475.09999999999997" width="4.6" height="4.6" fill="#000"/>
<rect x="202.59999999999997" y="475.7" width="3.1999999999999997" height="1.0" fill="#fff"/>
<path d="M214.5,475.7 L215.8,477.0 L214.5,478.3 L213.2,477.0 Z" fill="#000"/>
<line x1="229.6" y1="464.3" x2="229.6" y2="474.1" stroke="#000" stroke-width="1.2"/>
<line x1="226.4" y1="464.3" x2="232.79999999999998" y2="464.3" stroke="#000" stroke-width="1.2"/>
<line x1="226.4" y1="474.1" x2="232.79999999999998" y2="474.1" stroke="#000" stroke-width="1.2"/>
<circle cx="224.4" cy="468.4" r="1.95" fill="#fff" stroke="#000" stroke-width="0.85"/>
<rect x="232.89999999999998" y="466.09999999999997" width="4.6" height="4.6" fill="#000"/>
<rect x="233.59999999999997" y="466.7" width="3.1999999999999997" height="1.0" fill="#fff"/>
<path d="M229.6,464.5 L231.1,466.0 L229.6,467.5 L228.1,466.0 Z" fill="#000"/>
<path d="M227.10,470.43 L232.10,470.43 L229.60,474.78 Z" fill="#000"/>
<line x1="249.0" y1="441.2" x2="249.0" y2="469.0" stroke="#000" stroke-width="1.2"/>
<line x1="245.8" y1="441.2" x2="252.2" y2="441.2" stroke="#000" stroke-width="1.2"/>
<line x1="245.8" y1="469.0" x2="252.2" y2="469.0" stroke="#000" stroke-width="1.2"/>
<path d="M246.50,439.93 L251.50,439.93 L249.00,444.28 Z" fill="#000"/>
<path d="M249.0,445.5 L250.5,447.0 L249.0,448.5 L247.5,447.0 Z" fill="#000"/>
<rect x="246.7" y="454.5" width="4.6" height="4.6" fill="#000"/>
<rect x="247.39999999999998" y="455.1" width="3.1999999999999997" height="1.0" fill="#fff"/>
<circle cx="249.0" cy="468.4" r="1.95" fill="#fff" stroke="#000" stroke-width="0.85"/>
<line x1="269.0" y1="456.0" x2="269.0" y2="473.3" stroke="#000" stroke-width="1.2"/>
<line x1="265.8" y1="456.0" x2="272.2" y2="456.0" stroke="#000" stroke-width="1.2"/>
<line x1="265.8" y1="473.3" x2="272.2" y2="473.3" stroke="#000" stroke-width="1.2"/>
<path d="M261.40,461.52 L266.40,461.52 L263.90,465.88 Z" fill="#000"/>
<rect x="271.4" y="464.0" width="4.6" height="4.6" fill="#000"/>
<rect x="272.09999999999997" y="464.6" width="3.1999999999999997" height="1.0" fill="#fff"/>
<path d="M269.0,470.9 L270.5,472.4 L269.0,473.9 L267.5,472.4 Z" fill="#000"/>
<text x="213.80" y="519.60" font-size="10.8" text-anchor="end" transform="rotate(-45 213.80 519.60)">NTC</text>
<text x="234.20" y="519.60" font-size="10.8" text-anchor="end" transform="rotate(-45 234.20 519.60)">IM-28z</text>
<text x="253.70" y="519.60" font-size="10.8" text-anchor="end" transform="rotate(-45 253.70 519.60)">LF-28z</text>
<text x="273.60" y="519.60" font-size="10.8" text-anchor="end" transform="rotate(-45 273.60 519.60)">CD27z</text>
<rect x="345.6" y="469.5" width="12.8" height="39.0" fill="#c6c6cb"/>
<rect x="366.0" y="450.3" width="12.8" height="58.19999999999999" fill="#e79a1f"/>
<rect x="386.8" y="464.0" width="12.8" height="44.5" fill="#2a4a85"/>
<rect x="407.20000000000005" y="469.5" width="12.8" height="39.0" fill="#a8072f"/>
<line x1="338.4" y1="388.2" x2="338.4" y2="509.1" stroke="#000" stroke-width="1.4"/>
<line x1="337.7" y1="508.5" x2="424.0" y2="508.5" stroke="#000" stroke-width="1.4"/>
<line x1="352.0" y1="508.5" x2="352.0" y2="511.7" stroke="#000" stroke-width="1.1"/>
<line x1="372.4" y1="508.5" x2="372.4" y2="511.7" stroke="#000" stroke-width="1.1"/>
<line x1="393.2" y1="508.5" x2="393.2" y2="511.7" stroke="#000" stroke-width="1.1"/>
<line x1="413.6" y1="508.5" x2="413.6" y2="511.7" stroke="#000" stroke-width="1.1"/>
<line x1="334.8" y1="508.5" x2="338.4" y2="508.5" stroke="#000" stroke-width="1.2"/>
<text x="330.4" y="512.1" font-size="10.8" text-anchor="end">0</text>
<line x1="334.8" y1="485.56" x2="338.4" y2="485.56" stroke="#000" stroke-width="1.2"/>
<text x="330.4" y="489.16" font-size="10.8" text-anchor="end">10</text>
<line x1="334.8" y1="462.62" x2="338.4" y2="462.62" stroke="#000" stroke-width="1.2"/>
<text x="330.4" y="466.22" font-size="10.8" text-anchor="end">20</text>
<line x1="334.8" y1="439.68" x2="338.4" y2="439.68" stroke="#000" stroke-width="1.2"/>
<text x="330.4" y="443.28000000000003" font-size="10.8" text-anchor="end">30</text>
<line x1="334.8" y1="416.74" x2="338.4" y2="416.74" stroke="#000" stroke-width="1.2"/>
<text x="330.4" y="420.34000000000003" font-size="10.8" text-anchor="end">40</text>
<line x1="334.8" y1="393.8" x2="338.4" y2="393.8" stroke="#000" stroke-width="1.2"/>
<text x="330.4" y="397.40000000000003" font-size="10.8" text-anchor="end">50</text>
<text x="312.8" y="446.6" font-size="13.4" text-anchor="middle" textLength="108" lengthAdjust="spacingAndGlyphs" transform="rotate(-90 312.8 446.6)">% IFN-g+/TNF-a+ MVSTs</text>
<line x1="352.0" y1="402.6" x2="413.6" y2="402.6" stroke="#000" stroke-width="1.2"/>
<text x="382.8" y="400.40000000000003" font-size="10" text-anchor="middle">ns</text>
<line x1="352.0" y1="452.2" x2="352.0" y2="486.0" stroke="#000" stroke-width="1.2"/>
<line x1="348.8" y1="452.2" x2="355.2" y2="452.2" stroke="#000" stroke-width="1.2"/>
<line x1="348.8" y1="486.0" x2="355.2" y2="486.0" stroke="#000" stroke-width="1.2"/>
<circle cx="352.0" cy="450.9" r="1.95" fill="#fff" stroke="#000" stroke-width="0.85"/>
<path d="M349.50,456.72 L354.50,456.72 L352.00,461.07 Z" fill="#000"/>
<rect x="350.2" y="475.9" width="3.5999999999999996" height="3.5999999999999996" fill="none" stroke="#000" stroke-width="1.0"/>
<rect x="350.2" y="477.9" width="3.5999999999999996" height="1.5999999999999999" fill="#000"/>
<path d="M352.00,483.60 L352.72,485.51 L354.76,485.60 L353.16,486.88 L353.70,488.85 L352.00,487.72 L350.30,488.85 L350.84,486.88 L349.24,485.60 L351.28,485.51 Z" fill="#000"/>
<line x1="372.5" y1="428.0" x2="372.5" y2="471.7" stroke="#000" stroke-width="1.2"/>
<line x1="369.3" y1="428.0" x2="375.7" y2="428.0" stroke="#000" stroke-width="1.2"/>
<line x1="369.3" y1="471.7" x2="375.7" y2="471.7" stroke="#000" stroke-width="1.2"/>
<path d="M365.00,429.82 L370.00,429.82 L367.50,434.18 Z" fill="#000"/>
<circle cx="377.6" cy="431.2" r="1.95" fill="#fff" stroke="#000" stroke-width="0.85"/>
<rect x="370.7" y="459.9" width="3.5999999999999996" height="3.5999999999999996" fill="none" stroke="#000" stroke-width="1.0"/>
<rect x="370.7" y="461.9" width="3.5999999999999996" height="1.5999999999999999" fill="#000"/>
<path d="M372.50,472.50 L373.22,474.41 L375.26,474.50 L373.66,475.78 L374.20,477.75 L372.50,476.62 L370.80,477.75 L371.34,475.78 L369.74,474.50 L371.78,474.41 Z" fill="#000"/>
<line x1="393.1" y1="432.4" x2="393.1" y2="494.5" stroke="#000" stroke-width="1.2"/>
<line x1="389.90000000000003" y1="432.4" x2="396.3" y2="432.4" stroke="#000" stroke-width="1.2"/>
<line x1="389.90000000000003" y1="494.5" x2="396.3" y2="494.5" stroke="#000" stroke-width="1.2"/>
<circle cx="393.1" cy="418.0" r="1.95" fill="#fff" stroke="#000" stroke-width="0.85"/>
<rect x="391.3" y="467.7" width="3.5999999999999996" height="3.5999999999999996" fill="none" stroke="#000" stroke-width="1.0"/>
<rect x="391.3" y="469.7" width="3.5999999999999996" height="1.5999999999999999" fill="#000"/>
<path d="M385.50,481.93 L390.50,481.93 L388.00,486.28 Z" fill="#000"/>
<path d="M398.00,478.90 L398.72,480.81 L400.76,480.90 L399.16,482.18 L399.70,484.15 L398.00,483.02 L396.30,484.15 L396.84,482.18 L395.24,480.90 L397.28,480.81 Z" fill="#000"/>
<line x1="413.5" y1="448.5" x2="413.5" y2="489.2" stroke="#000" stroke-width="1.2"/>
<line x1="410.3" y1="448.5" x2="416.7" y2="448.5" stroke="#000" stroke-width="1.2"/>
<line x1="410.3" y1="489.2" x2="416.7" y2="489.2" stroke="#000" stroke-width="1.2"/>
<circle cx="413.5" cy="442.7" r="1.95" fill="#fff" stroke="#000" stroke-width="0.85"/>
<path d="M405.90,466.43 L410.90,466.43 L408.40,470.78 Z" fill="#000"/>
<rect x="416.4" y="470.9" width="4.6" height="4.6" fill="#000"/>
<rect x="417.09999999999997" y="471.5" width="3.1999999999999997" height="1.0" fill="#fff"/>
<path d="M413.50,489.40 L414.22,491.31 L416.26,491.40 L414.66,492.68 L415.20,494.65 L413.50,493.52 L411.80,494.65 L412.34,492.68 L410.74,491.40 L412.78,491.31 Z" fill="#000"/>
<text x="356.40" y="519.60" font-size="10.8" text-anchor="end" transform="rotate(-45 356.40 519.60)">NTC</text>
<text x="376.80" y="519.60" font-size="10.8" text-anchor="end" transform="rotate(-45 376.80 519.60)">IM-28z</text>
<text x="397.60" y="519.60" font-size="10.8" text-anchor="end" transform="rotate(-45 397.60 519.60)">LF-28z</text>
<text x="418.00" y="519.60" font-size="10.8" text-anchor="end" transform="rotate(-45 418.00 519.60)">CD27z</text>
<text x="113.4" y="573.2" font-size="12.4" text-anchor="middle">CBU donor #1</text>
<rect x="64.89999999999999" y="617.9" width="12.8" height="68.10000000000002" fill="#a9bc80"/>
<rect x="85.1" y="622.0" width="12.8" height="64.0" fill="#c6c6cb"/>
<rect x="105.1" y="614.1" width="12.8" height="71.89999999999998" fill="#2a4a85"/>
<rect x="125.1" y="620.5" width="12.8" height="65.5" fill="#a8072f"/>
<line x1="57.9" y1="587.8" x2="57.9" y2="686.6" stroke="#000" stroke-width="1.4"/>
<line x1="57.199999999999996" y1="686.0" x2="164.0" y2="686.0" stroke="#000" stroke-width="1.4"/>
<line x1="71.3" y1="686.0" x2="71.3" y2="689.2" stroke="#000" stroke-width="1.1"/>
<line x1="91.5" y1="686.0" x2="91.5" y2="689.2" stroke="#000" stroke-width="1.1"/>
<line x1="111.5" y1="686.0" x2="111.5" y2="689.2" stroke="#000" stroke-width="1.1"/>
<line x1="131.5" y1="686.0" x2="131.5" y2="689.2" stroke="#000" stroke-width="1.1"/>
<line x1="151.2" y1="686.0" x2="151.2" y2="689.2" stroke="#000" stroke-width="1.1"/>
<line x1="54.3" y1="686.0" x2="57.9" y2="686.0" stroke="#000" stroke-width="1.2"/>
<text x="49.9" y="689.4" font-size="10.8" text-anchor="end">0</text>
<line x1="54.3" y1="655.0" x2="57.9" y2="655.0" stroke="#000" stroke-width="1.2"/>
<text x="49.9" y="658.4" font-size="10.8" text-anchor="end">100</text>
<line x1="54.3" y1="624.0" x2="57.9" y2="624.0" stroke="#000" stroke-width="1.2"/>
<text x="49.9" y="627.4" font-size="10.8" text-anchor="end">200</text>
<line x1="54.3" y1="593.0" x2="57.9" y2="593.0" stroke="#000" stroke-width="1.2"/>
<text x="49.9" y="596.4" font-size="10.8" text-anchor="end">300</text>
<text x="26.6" y="636.2" font-size="13.4" text-anchor="middle" textLength="54.5" lengthAdjust="spacingAndGlyphs" transform="rotate(-90 26.6 636.2)"># of colonies</text>
<line x1="100.0" y1="583.8" x2="151.9" y2="583.8" stroke="#000" stroke-width="1.2"/>
<line x1="100.0" y1="582.1999999999999" x2="100.0" y2="585.4" stroke="#000" stroke-width="1.1"/>
<line x1="151.9" y1="582.1999999999999" x2="151.9" y2="585.4" stroke="#000" stroke-width="1.1"/>
<text x="125.95" y="584.9" font-size="10.5" text-anchor="middle">****</text>
<line x1="71.9" y1="590.2" x2="131.8" y2="590.2" stroke="#000" stroke-width="1.1"/>
<line x1="71.9" y1="589.6" x2="71.9" y2="593.4" stroke="#000" stroke-width="1.1"/>
<line x1="131.8" y1="589.6" x2="131.8" y2="593.4" stroke="#000" stroke-width="1.1"/>
<line x1="71.9" y1="601.9" x2="131.8" y2="601.9" stroke="#000" stroke-width="1.1"/>
<text x="101.9" y="599.0" font-size="9.0" text-anchor="middle">ns</text>
<text x="75.70" y="697.00" font-size="10.8" text-anchor="end" transform="rotate(-45 75.70 697.00)">media</text>
<text x="95.90" y="697.00" font-size="10.8" text-anchor="end" transform="rotate(-45 95.90 697.00)">NTC</text>
<text x="115.90" y="697.00" font-size="10.8" text-anchor="end" transform="rotate(-45 115.90 697.00)">LF-28z</text>
<text x="135.90" y="697.00" font-size="10.8" text-anchor="end" transform="rotate(-45 135.90 697.00)">CD27z</text>
<text x="155.60" y="697.00" font-size="10.8" text-anchor="end" transform="rotate(-45 155.60 697.00)">CD33CART</text>
<line x1="69.7" y1="616.0" x2="72.89999999999999" y2="619.2" stroke="#000" stroke-width="0.9"/>
<line x1="69.7" y1="619.2" x2="72.89999999999999" y2="616.0" stroke="#000" stroke-width="0.9"/>
<line x1="91.5" y1="614.5" x2="91.5" y2="628.4" stroke="#000" stroke-width="1.2"/>
<line x1="88.5" y1="614.5" x2="94.5" y2="614.5" stroke="#000" stroke-width="1.2"/>
<line x1="88.5" y1="628.4" x2="94.5" y2="628.4" stroke="#000" stroke-width="1.2"/>
<path d="M89.50,622.74 L93.50,622.74 L91.50,619.26 Z" fill="#000" stroke="#000" stroke-width="0"/>
<line x1="111.6" y1="608.2" x2="111.6" y2="620.5" stroke="#000" stroke-width="1.2"/>
<line x1="108.6" y1="608.2" x2="114.6" y2="608.2" stroke="#000" stroke-width="1.2"/>
<line x1="108.6" y1="620.5" x2="114.6" y2="620.5" stroke="#000" stroke-width="1.2"/>
<path d="M104.00,611.54 L108.00,611.54 L106.00,608.06 Z" fill="#fff" stroke="#000" stroke-width="0.8"/>
<path d="M114.80,611.77 L118.40,611.77 L116.60,608.63 Z" fill="#000" stroke="#000" stroke-width="0"/>
<path d="M109.40,618.09 L113.80,618.09 L111.60,621.91 Z" fill="#000"/>
<line x1="131.6" y1="611.9" x2="131.6" y2="630.0" stroke="#000" stroke-width="1.2"/>
<line x1="128.6" y1="611.9" x2="134.6" y2="611.9" stroke="#000" stroke-width="1.2"/>
<line x1="128.6" y1="630.0" x2="134.6" y2="630.0" stroke="#000" stroke-width="1.2"/>
<path d="M124.30,614.97 L127.90,614.97 L126.10,611.83 Z" fill="#000" stroke="#000" stroke-width="0"/>
<path d="M134.00,618.54 L138.00,618.54 L136.00,615.06 Z" fill="#fff" stroke="#000" stroke-width="0.8"/>
<path d="M129.40,627.49 L133.80,627.49 L131.60,631.31 Z" fill="#000"/>
<path d="M146.90,685.99 L150.10,685.99 L148.50,683.21 Z" fill="#fff" stroke="#000" stroke-width="0.8"/>
<path d="M150.50,685.90 L153.50,685.90 L152.00,683.30 Z" fill="#000" stroke="#000" stroke-width="0"/>
<path d="M155,683.5999999999999 L156.2,684.8 L155,686.0 L153.8,684.8 Z" fill="#000"/>
<line x1="151.2" y1="684.4" x2="151.2" y2="686.0" stroke="#000" stroke-width="1.2"/>
<line x1="148.79999999999998" y1="684.4" x2="153.6" y2="684.4" stroke="#000" stroke-width="1.2"/>
<line x1="148.79999999999998" y1="686.0" x2="153.6" y2="686.0" stroke="#000" stroke-width="1.2"/>
<text x="273.0" y="573.2" font-size="12.4" text-anchor="middle">CBU donor #2</text>
<rect x="226.4" y="614.0" width="12.8" height="72.0" fill="#a9bc80"/>
<rect x="246.6" y="620.0" width="12.8" height="66.0" fill="#c6c6cb"/>
<rect x="266.90000000000003" y="616.8" width="12.8" height="69.20000000000005" fill="#2a4a85"/>
<rect x="287.0" y="623.4" width="12.8" height="62.60000000000002" fill="#a8072f"/>
<line x1="219.3" y1="587.8" x2="219.3" y2="686.6" stroke="#000" stroke-width="1.4"/>
<line x1="218.60000000000002" y1="686.0" x2="327.6" y2="686.0" stroke="#000" stroke-width="1.4"/>
<line x1="232.8" y1="686.0" x2="232.8" y2="689.2" stroke="#000" stroke-width="1.1"/>
<line x1="253.0" y1="686.0" x2="253.0" y2="689.2" stroke="#000" stroke-width="1.1"/>
<line x1="273.3" y1="686.0" x2="273.3" y2="689.2" stroke="#000" stroke-width="1.1"/>
<line x1="293.4" y1="686.0" x2="293.4" y2="689.2" stroke="#000" stroke-width="1.1"/>
<line x1="313.3" y1="686.0" x2="313.3" y2="689.2" stroke="#000" stroke-width="1.1"/>
<line x1="215.70000000000002" y1="686.0" x2="219.3" y2="686.0" stroke="#000" stroke-width="1.2"/>
<text x="211.3" y="689.4" font-size="10.8" text-anchor="end">0</text>
<line x1="215.70000000000002" y1="655.0" x2="219.3" y2="655.0" stroke="#000" stroke-width="1.2"/>
<text x="211.3" y="658.4" font-size="10.8" text-anchor="end">100</text>
<line x1="215.70000000000002" y1="624.0" x2="219.3" y2="624.0" stroke="#000" stroke-width="1.2"/>
<text x="211.3" y="627.4" font-size="10.8" text-anchor="end">200</text>
<line x1="215.70000000000002" y1="593.0" x2="219.3" y2="593.0" stroke="#000" stroke-width="1.2"/>
<text x="211.3" y="596.4" font-size="10.8" text-anchor="end">300</text>
<text x="188.6" y="636.2" font-size="13.4" text-anchor="middle" textLength="54.5" lengthAdjust="spacingAndGlyphs" transform="rotate(-90 188.6 636.2)"># of colonies</text>
<line x1="261.7" y1="583.8" x2="313.0" y2="583.8" stroke="#000" stroke-width="1.2"/>
<line x1="261.7" y1="582.1999999999999" x2="261.7" y2="585.4" stroke="#000" stroke-width="1.1"/>
<line x1="313.0" y1="582.1999999999999" x2="313.0" y2="585.4" stroke="#000" stroke-width="1.1"/>
<text x="287.35" y="584.9" font-size="10.5" text-anchor="middle">****</text>
<line x1="233.3" y1="590.2" x2="293.6" y2="590.2" stroke="#000" stroke-width="1.1"/>
<line x1="233.3" y1="589.6" x2="233.3" y2="593.4" stroke="#000" stroke-width="1.1"/>
<line x1="293.6" y1="589.6" x2="293.6" y2="593.4" stroke="#000" stroke-width="1.1"/>
<line x1="233.3" y1="601.9" x2="293.6" y2="601.9" stroke="#000" stroke-width="1.1"/>
<text x="264.3" y="599.0" font-size="9.0" text-anchor="middle">ns</text>
<text x="237.20" y="697.00" font-size="10.8" text-anchor="end" transform="rotate(-45 237.20 697.00)">media</text>
<text x="257.40" y="697.00" font-size="10.8" text-anchor="end" transform="rotate(-45 257.40 697.00)">NTC</text>
<text x="277.70" y="697.00" font-size="10.8" text-anchor="end" transform="rotate(-45 277.70 697.00)">LF-28z</text>
<text x="297.80" y="697.00" font-size="10.8" text-anchor="end" transform="rotate(-45 297.80 697.00)">CD27z</text>
<text x="317.70" y="697.00" font-size="10.8" text-anchor="end" transform="rotate(-45 317.70 697.00)">CD33CART</text>
<line x1="231.20000000000002" y1="612.1999999999999" x2="234.4" y2="615.4" stroke="#000" stroke-width="0.9"/>
<line x1="231.20000000000002" y1="615.4" x2="234.4" y2="612.1999999999999" stroke="#000" stroke-width="0.9"/>
<line x1="253.0" y1="616.8" x2="253.0" y2="622.5" stroke="#000" stroke-width="1.2"/>
<line x1="250.0" y1="616.8" x2="256.0" y2="616.8" stroke="#000" stroke-width="1.2"/>
<line x1="250.0" y1="622.5" x2="256.0" y2="622.5" stroke="#000" stroke-width="1.2"/>
<path d="M248.00,620.17 L251.60,620.17 L249.80,617.03 Z" fill="#fff" stroke="#000" stroke-width="0.8"/>
<path d="M254.40,620.17 L258.00,620.17 L256.20,617.03 Z" fill="#000" stroke="#000" stroke-width="0"/>
<path d="M251.20,620.63 L254.80,620.63 L253.00,623.77 Z" fill="#000"/>
<line x1="273.3" y1="613.2" x2="273.3" y2="619.5" stroke="#000" stroke-width="1.2"/>
<line x1="270.3" y1="613.2" x2="276.3" y2="613.2" stroke="#000" stroke-width="1.2"/>
<line x1="270.3" y1="619.5" x2="276.3" y2="619.5" stroke="#000" stroke-width="1.2"/>
<path d="M271.50,615.57 L275.10,615.57 L273.30,612.43 Z" fill="#000" stroke="#000" stroke-width="0"/>
<path d="M269.0,617.3 L270.5,618.8 L269.0,620.3 L267.5,618.8 Z" fill="#000"/>
<path d="M277.6,617.3 L279.1,618.8 L277.6,620.3 L276.1,618.8 Z" fill="#000"/>
<line x1="293.4" y1="614.0" x2="293.4" y2="626.5" stroke="#000" stroke-width="1.2"/>
<line x1="290.4" y1="614.0" x2="296.4" y2="614.0" stroke="#000" stroke-width="1.2"/>
<line x1="290.4" y1="626.5" x2="296.4" y2="626.5" stroke="#000" stroke-width="1.2"/>
<path d="M291.60,616.17 L295.20,616.17 L293.40,613.03 Z" fill="#000" stroke="#000" stroke-width="0"/>
<path d="M287.60,624.43 L291.20,624.43 L289.40,627.57 Z" fill="#000"/>
<path d="M297.8,621.9 L299.3,623.4 L297.8,624.9 L296.3,623.4 Z" fill="#000"/>
<path d="M308.20,685.77 L311.80,685.77 L310.00,682.63 Z" fill="#fff" stroke="#000" stroke-width="0.8"/>
<path d="M312.20,685.17 L315.80,685.17 L314.00,682.03 Z" fill="#e8c020" stroke="#000" stroke-width="0.8"/>
<path d="M315.00,683.50 L318.00,683.50 L316.50,686.10 Z" fill="#000"/>
<line x1="313.3" y1="683.0" x2="313.3" y2="686.0" stroke="#000" stroke-width="1.2"/>
<line x1="310.90000000000003" y1="683.0" x2="315.7" y2="683.0" stroke="#000" stroke-width="1.2"/>
<line x1="310.90000000000003" y1="686.0" x2="315.7" y2="686.0" stroke="#000" stroke-width="1.2"/>
</svg>
</body></html>
